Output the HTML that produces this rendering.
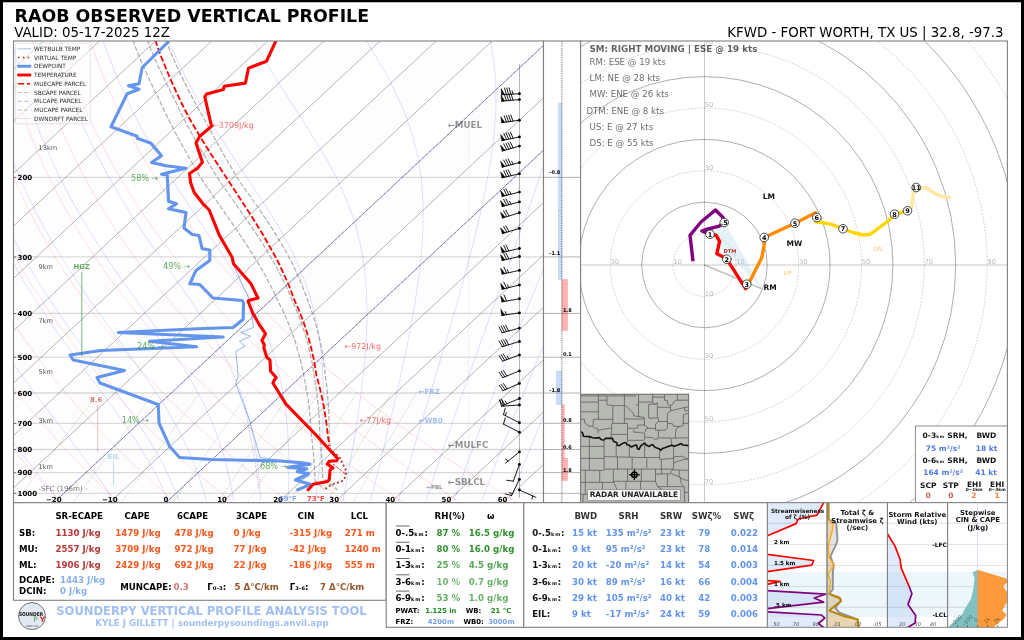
<!DOCTYPE html>
<html lang="en"><head><meta charset="utf-8"><title>SounderPy Vertical Profile</title>
<style>html,body{margin:0;padding:0;background:#fff;width:1024px;height:640px;overflow:hidden}svg{display:block}text{white-space:pre}</style></head>
<body>
<svg width="1024" height="640" viewBox="0 0 1024 640" font-family="'DejaVu Sans','Liberation Sans',sans-serif">
<defs><clipPath id="cs"><rect x="13.5" y="41.0" width="530.0" height="461.7"/></clipPath><clipPath id="ch"><rect x="580.6" y="41.0" width="426.79999999999995" height="461.7"/></clipPath><clipPath id="cm"><rect x="580.4" y="394.2" width="108.30000000000007" height="108.19999999999999"/></clipPath><clipPath id="ct0"><rect x="580" y="394" width="56" height="38"/></clipPath><clipPath id="ct1"><rect x="636" y="394" width="56" height="38"/></clipPath><clipPath id="ct2"><rect x="580" y="432" width="56" height="36"/></clipPath><clipPath id="ct3"><rect x="636" y="432" width="56" height="36"/></clipPath><clipPath id="ct4"><rect x="580" y="468" width="56" height="38"/></clipPath><clipPath id="ct5"><rect x="636" y="468" width="56" height="38"/></clipPath><clipPath id="cp0"><rect x="767.4" y="502.7" width="59.60000000000002" height="124.59999999999997"/></clipPath><clipPath id="cp1"><rect x="827.0" y="502.7" width="60.39999999999998" height="124.59999999999997"/></clipPath><clipPath id="cp2"><rect x="887.4" y="502.7" width="60.200000000000045" height="124.59999999999997"/></clipPath><clipPath id="cp3"><rect x="947.6" y="502.7" width="59.799999999999955" height="124.59999999999997"/></clipPath></defs>
<rect x="0.00" y="0.00" width="1024.00" height="640.00" fill="#fff" stroke="none" stroke-width="1"/>
<path d="M0 0H1024V640H0Z M3 2.2H1021V637H3Z" fill="#000" fill-rule="evenodd"/>
<text x="14.60" y="22.00" font-size="17.4" font-weight="bold" fill="#000">RAOB OBSERVED VERTICAL PROFILE</text>
<text x="14.20" y="37.00" font-size="13.35" fill="#000">VALID: 05-17-2025 12Z</text>
<text x="1003.50" y="37.00" font-size="13.35" fill="#000" text-anchor="end">KFWD - FORT WORTH, TX US | 32.8, -97.3</text>
<g clip-path="url(#cs)">
<path d="M-400.5 507.7 L104.8 36.0 L160.9 36.0 L-344.4 507.7Z" stroke="none" stroke-width="1" fill="#808080" stroke-linejoin="round" stroke-linecap="butt" opacity="0.02"/>
<path d="M-288.3 507.7 L217.0 36.0 L273.1 36.0 L-232.2 507.7Z" stroke="none" stroke-width="1" fill="#808080" stroke-linejoin="round" stroke-linecap="butt" opacity="0.02"/>
<path d="M-176.1 507.7 L329.2 36.0 L385.3 36.0 L-120.0 507.7Z" stroke="none" stroke-width="1" fill="#808080" stroke-linejoin="round" stroke-linecap="butt" opacity="0.02"/>
<path d="M-63.9 507.7 L441.4 36.0 L497.5 36.0 L-7.8 507.7Z" stroke="none" stroke-width="1" fill="#808080" stroke-linejoin="round" stroke-linecap="butt" opacity="0.02"/>
<path d="M48.3 507.7 L553.6 36.0 L609.7 36.0 L104.4 507.7Z" stroke="none" stroke-width="1" fill="#808080" stroke-linejoin="round" stroke-linecap="butt" opacity="0.02"/>
<path d="M160.5 507.7 L665.8 36.0 L721.9 36.0 L216.6 507.7Z" stroke="none" stroke-width="1" fill="#808080" stroke-linejoin="round" stroke-linecap="butt" opacity="0.02"/>
<path d="M272.7 507.7 L778.0 36.0 L834.1 36.0 L328.8 507.7Z" stroke="none" stroke-width="1" fill="#808080" stroke-linejoin="round" stroke-linecap="butt" opacity="0.02"/>
<path d="M384.9 507.7 L890.2 36.0 L946.3 36.0 L441.0 507.7Z" stroke="none" stroke-width="1" fill="#808080" stroke-linejoin="round" stroke-linecap="butt" opacity="0.02"/>
<line x1="13.50" y1="177.30" x2="543.50" y2="177.30" stroke="#000" stroke-width="1.3" opacity="0.14"/>
<line x1="13.50" y1="256.92" x2="543.50" y2="256.92" stroke="#000" stroke-width="1.3" opacity="0.14"/>
<line x1="13.50" y1="313.40" x2="543.50" y2="313.40" stroke="#000" stroke-width="1.3" opacity="0.14"/>
<line x1="13.50" y1="357.22" x2="543.50" y2="357.22" stroke="#000" stroke-width="1.3" opacity="0.14"/>
<line x1="13.50" y1="393.02" x2="543.50" y2="393.02" stroke="#000" stroke-width="1.3" opacity="0.14"/>
<line x1="13.50" y1="423.29" x2="543.50" y2="423.29" stroke="#000" stroke-width="1.3" opacity="0.14"/>
<line x1="13.50" y1="449.50" x2="543.50" y2="449.50" stroke="#000" stroke-width="1.3" opacity="0.14"/>
<line x1="13.50" y1="472.63" x2="543.50" y2="472.63" stroke="#000" stroke-width="1.3" opacity="0.14"/>
<line x1="13.50" y1="493.32" x2="543.50" y2="493.32" stroke="#000" stroke-width="1.3" opacity="0.14"/>
<line x1="-956.10" y1="502.70" x2="-461.56" y2="41.00" stroke="#000" stroke-width="0.68" opacity="0.42"/>
<line x1="-900.00" y1="502.70" x2="-405.46" y2="41.00" stroke="#000" stroke-width="0.68" opacity="0.42"/>
<line x1="-843.90" y1="502.70" x2="-349.36" y2="41.00" stroke="#000" stroke-width="0.68" opacity="0.42"/>
<line x1="-787.80" y1="502.70" x2="-293.26" y2="41.00" stroke="#000" stroke-width="0.68" opacity="0.42"/>
<line x1="-731.70" y1="502.70" x2="-237.16" y2="41.00" stroke="#000" stroke-width="0.68" opacity="0.42"/>
<line x1="-675.60" y1="502.70" x2="-181.06" y2="41.00" stroke="#000" stroke-width="0.68" opacity="0.42"/>
<line x1="-619.50" y1="502.70" x2="-124.96" y2="41.00" stroke="#000" stroke-width="0.68" opacity="0.42"/>
<line x1="-563.40" y1="502.70" x2="-68.86" y2="41.00" stroke="#000" stroke-width="0.68" opacity="0.42"/>
<line x1="-507.30" y1="502.70" x2="-12.76" y2="41.00" stroke="#000" stroke-width="0.68" opacity="0.42"/>
<line x1="-451.20" y1="502.70" x2="43.34" y2="41.00" stroke="#000" stroke-width="0.68" opacity="0.42"/>
<line x1="-395.10" y1="502.70" x2="99.44" y2="41.00" stroke="#000" stroke-width="0.68" opacity="0.42"/>
<line x1="-339.00" y1="502.70" x2="155.54" y2="41.00" stroke="#000" stroke-width="0.68" opacity="0.42"/>
<line x1="-282.90" y1="502.70" x2="211.64" y2="41.00" stroke="#000" stroke-width="0.68" opacity="0.42"/>
<line x1="-226.80" y1="502.70" x2="267.74" y2="41.00" stroke="#000" stroke-width="0.68" opacity="0.42"/>
<line x1="-170.70" y1="502.70" x2="323.84" y2="41.00" stroke="#000" stroke-width="0.68" opacity="0.42"/>
<line x1="-114.60" y1="502.70" x2="379.94" y2="41.00" stroke="#000" stroke-width="0.68" opacity="0.42"/>
<line x1="-58.50" y1="502.70" x2="436.04" y2="41.00" stroke="#000" stroke-width="0.68" opacity="0.42"/>
<line x1="-2.40" y1="502.70" x2="492.14" y2="41.00" stroke="#000" stroke-width="0.68" opacity="0.42"/>
<line x1="53.70" y1="502.70" x2="548.24" y2="41.00" stroke="#000" stroke-width="0.68" opacity="0.42"/>
<line x1="109.80" y1="502.70" x2="604.34" y2="41.00" stroke="#000" stroke-width="0.68" opacity="0.42"/>
<line x1="165.90" y1="502.70" x2="660.44" y2="41.00" stroke="#000" stroke-width="0.68" opacity="0.42"/>
<line x1="222.00" y1="502.70" x2="716.54" y2="41.00" stroke="#000" stroke-width="0.68" opacity="0.42"/>
<line x1="278.10" y1="502.70" x2="772.64" y2="41.00" stroke="#000" stroke-width="0.68" opacity="0.42"/>
<line x1="334.20" y1="502.70" x2="828.74" y2="41.00" stroke="#000" stroke-width="0.68" opacity="0.42"/>
<line x1="390.30" y1="502.70" x2="884.84" y2="41.00" stroke="#000" stroke-width="0.68" opacity="0.42"/>
<line x1="446.40" y1="502.70" x2="940.94" y2="41.00" stroke="#000" stroke-width="0.68" opacity="0.42"/>
<line x1="502.50" y1="502.70" x2="997.04" y2="41.00" stroke="#000" stroke-width="0.68" opacity="0.42"/>
<line x1="558.60" y1="502.70" x2="1053.14" y2="41.00" stroke="#000" stroke-width="0.68" opacity="0.42"/>
<path d="M-142.2 41.0 L-142.2 48.7 L-142.1 56.4 L-142.0 64.1 L-141.7 71.8 L-141.3 79.5 L-140.9 87.2 L-140.4 94.9 L-139.7 102.6 L-139.0 110.3 L-138.1 118.0 L-137.2 125.6 L-136.1 133.3 L-135.0 141.0 L-133.7 148.7 L-132.3 156.4 L-130.9 164.1 L-129.3 171.8 L-127.6 179.5 L-125.8 187.2 L-123.8 194.9 L-121.8 202.6 L-119.6 210.3 L-117.4 218.0 L-115.0 225.7 L-112.5 233.4 L-109.9 241.1 L-107.1 248.8 L-104.2 256.5 L-101.2 264.2 L-98.1 271.9 L-94.8 279.5 L-91.5 287.2 L-87.9 294.9 L-84.3 302.6 L-80.5 310.3 L-76.6 318.0 L-72.5 325.7 L-68.4 333.4 L-64.0 341.1 L-59.5 348.8 L-54.9 356.5 L-50.2 364.2 L-45.3 371.9 L-40.2 379.6 L-35.0 387.3 L-29.6 395.0 L-24.1 402.7 L-18.5 410.4 L-12.6 418.1 L-6.7 425.8 L-0.5 433.4 L5.8 441.1 L12.3 448.8 L18.9 456.5 L25.7 464.2 L32.7 471.9 L39.8 479.6 L47.1 487.3 L54.6 495.0 L62.3 502.7" stroke="#ff4040" stroke-width="0.5" fill="none" stroke-linejoin="round" stroke-linecap="butt" opacity="0.32"/>
<path d="M-113.1 41.0 L-112.8 48.7 L-112.4 56.4 L-111.9 64.1 L-111.3 71.8 L-110.6 79.5 L-109.8 87.2 L-108.9 94.9 L-107.9 102.6 L-106.8 110.3 L-105.6 118.0 L-104.3 125.6 L-102.9 133.3 L-101.4 141.0 L-99.7 148.7 L-98.0 156.4 L-96.1 164.1 L-94.1 171.8 L-92.0 179.5 L-89.8 187.2 L-87.5 194.9 L-85.0 202.6 L-82.5 210.3 L-79.8 218.0 L-77.0 225.7 L-74.0 233.4 L-71.0 241.1 L-67.8 248.8 L-64.5 256.5 L-61.0 264.2 L-57.4 271.9 L-53.7 279.5 L-49.9 287.2 L-45.9 294.9 L-41.8 302.6 L-37.5 310.3 L-33.1 318.0 L-28.6 325.7 L-23.9 333.4 L-19.1 341.1 L-14.1 348.8 L-8.9 356.5 L-3.7 364.2 L1.8 371.9 L7.4 379.6 L13.1 387.3 L19.0 395.0 L25.1 402.7 L31.3 410.4 L37.7 418.1 L44.2 425.8 L50.9 433.4 L57.8 441.1 L64.8 448.8 L72.1 456.5 L79.5 464.2 L87.0 471.9 L94.8 479.6 L102.7 487.3 L110.8 495.0 L119.1 502.7" stroke="#ff4040" stroke-width="0.5" fill="none" stroke-linejoin="round" stroke-linecap="butt" opacity="0.32"/>
<path d="M-84.0 41.0 L-83.4 48.7 L-82.7 56.4 L-81.9 64.1 L-80.9 71.8 L-79.9 79.5 L-78.7 87.2 L-77.5 94.9 L-76.1 102.6 L-74.7 110.3 L-73.1 118.0 L-71.4 125.6 L-69.6 133.3 L-67.7 141.0 L-65.7 148.7 L-63.6 156.4 L-61.3 164.1 L-59.0 171.8 L-56.5 179.5 L-53.9 187.2 L-51.1 194.9 L-48.3 202.6 L-45.3 210.3 L-42.2 218.0 L-39.0 225.7 L-35.6 233.4 L-32.1 241.1 L-28.5 248.8 L-24.7 256.5 L-20.8 264.2 L-16.8 271.9 L-12.6 279.5 L-8.3 287.2 L-3.9 294.9 L0.7 302.6 L5.5 310.3 L10.4 318.0 L15.4 325.7 L20.6 333.4 L25.9 341.1 L31.4 348.8 L37.0 356.5 L42.8 364.2 L48.8 371.9 L54.9 379.6 L61.2 387.3 L67.6 395.0 L74.2 402.7 L81.0 410.4 L88.0 418.1 L95.1 425.8 L102.4 433.4 L109.8 441.1 L117.4 448.8 L125.3 456.5 L133.3 464.2 L141.4 471.9 L149.8 479.6 L158.4 487.3 L167.1 495.0 L176.0 502.7" stroke="#ff4040" stroke-width="0.5" fill="none" stroke-linejoin="round" stroke-linecap="butt" opacity="0.32"/>
<path d="M-55.0 41.0 L-54.0 48.7 L-53.0 56.4 L-51.8 64.1 L-50.5 71.8 L-49.2 79.5 L-47.7 87.2 L-46.1 94.9 L-44.4 102.6 L-42.6 110.3 L-40.6 118.0 L-38.6 125.6 L-36.4 133.3 L-34.1 141.0 L-31.7 148.7 L-29.2 156.4 L-26.6 164.1 L-23.8 171.8 L-20.9 179.5 L-17.9 187.2 L-14.8 194.9 L-11.5 202.6 L-8.1 210.3 L-4.6 218.0 L-0.9 225.7 L2.8 233.4 L6.8 241.1 L10.8 248.8 L15.0 256.5 L19.4 264.2 L23.9 271.9 L28.5 279.5 L33.3 287.2 L38.2 294.9 L43.3 302.6 L48.5 310.3 L53.8 318.0 L59.4 325.7 L65.0 333.4 L70.9 341.1 L76.9 348.8 L83.0 356.5 L89.3 364.2 L95.8 371.9 L102.5 379.6 L109.3 387.3 L116.3 395.0 L123.4 402.7 L130.7 410.4 L138.2 418.1 L145.9 425.8 L153.8 433.4 L161.8 441.1 L170.0 448.8 L178.5 456.5 L187.1 464.2 L195.8 471.9 L204.8 479.6 L214.0 487.3 L223.4 495.0 L232.9 502.7" stroke="#ff4040" stroke-width="0.5" fill="none" stroke-linejoin="round" stroke-linecap="butt" opacity="0.32"/>
<path d="M-25.9 41.0 L-24.6 48.7 L-23.3 56.4 L-21.8 64.1 L-20.1 71.8 L-18.4 79.5 L-16.6 87.2 L-14.6 94.9 L-12.6 102.6 L-10.4 110.3 L-8.1 118.0 L-5.7 125.6 L-3.2 133.3 L-0.5 141.0 L2.3 148.7 L5.2 156.4 L8.2 164.1 L11.3 171.8 L14.6 179.5 L18.0 187.2 L21.6 194.9 L25.2 202.6 L29.0 210.3 L33.0 218.0 L37.1 225.7 L41.3 233.4 L45.7 241.1 L50.2 248.8 L54.8 256.5 L59.6 264.2 L64.5 271.9 L69.6 279.5 L74.9 287.2 L80.2 294.9 L85.8 302.6 L91.5 310.3 L97.3 318.0 L103.3 325.7 L109.5 333.4 L115.9 341.1 L122.4 348.8 L129.0 356.5 L135.8 364.2 L142.9 371.9 L150.0 379.6 L157.4 387.3 L164.9 395.0 L172.6 402.7 L180.5 410.4 L188.5 418.1 L196.8 425.8 L205.2 433.4 L213.8 441.1 L222.6 448.8 L231.6 456.5 L240.8 464.2 L250.2 471.9 L259.8 479.6 L269.6 487.3 L279.6 495.0 L289.8 502.7" stroke="#ff4040" stroke-width="0.5" fill="none" stroke-linejoin="round" stroke-linecap="butt" opacity="0.32"/>
<path d="M3.1 41.0 L4.7 48.7 L6.5 56.4 L8.3 64.1 L10.2 71.8 L12.3 79.5 L14.5 87.2 L16.8 94.9 L19.2 102.6 L21.7 110.3 L24.4 118.0 L27.2 125.6 L30.1 133.3 L33.1 141.0 L36.2 148.7 L39.5 156.4 L42.9 164.1 L46.5 171.8 L50.2 179.5 L54.0 187.2 L57.9 194.9 L62.0 202.6 L66.2 210.3 L70.6 218.0 L75.1 225.7 L79.7 233.4 L84.5 241.1 L89.5 248.8 L94.6 256.5 L99.8 264.2 L105.2 271.9 L110.7 279.5 L116.4 287.2 L122.3 294.9 L128.3 302.6 L134.5 310.3 L140.8 318.0 L147.3 325.7 L154.0 333.4 L160.8 341.1 L167.8 348.8 L175.0 356.5 L182.4 364.2 L189.9 371.9 L197.6 379.6 L205.5 387.3 L213.5 395.0 L221.8 402.7 L230.2 410.4 L238.8 418.1 L247.6 425.8 L256.7 433.4 L265.9 441.1 L275.2 448.8 L284.8 456.5 L294.6 464.2 L304.6 471.9 L314.8 479.6 L325.2 487.3 L335.9 495.0 L346.7 502.7" stroke="#ff4040" stroke-width="0.5" fill="none" stroke-linejoin="round" stroke-linecap="butt" opacity="0.32"/>
<path d="M32.2 41.0 L34.1 48.7 L36.2 56.4 L38.3 64.1 L40.6 71.8 L43.0 79.5 L45.6 87.2 L48.2 94.9 L51.0 102.6 L53.9 110.3 L56.9 118.0 L60.0 125.6 L63.3 133.3 L66.7 141.0 L70.2 148.7 L73.9 156.4 L77.7 164.1 L81.6 171.8 L85.7 179.5 L89.9 187.2 L94.3 194.9 L98.8 202.6 L103.4 210.3 L108.2 218.0 L113.1 225.7 L118.2 233.4 L123.4 241.1 L128.8 248.8 L134.3 256.5 L140.0 264.2 L145.8 271.9 L151.8 279.5 L158.0 287.2 L164.3 294.9 L170.8 302.6 L177.5 310.3 L184.3 318.0 L191.3 325.7 L198.5 333.4 L205.8 341.1 L213.3 348.8 L221.0 356.5 L228.9 364.2 L236.9 371.9 L245.1 379.6 L253.6 387.3 L262.2 395.0 L271.0 402.7 L280.0 410.4 L289.1 418.1 L298.5 425.8 L308.1 433.4 L317.9 441.1 L327.8 448.8 L338.0 456.5 L348.4 464.2 L359.0 471.9 L369.8 479.6 L380.9 487.3 L392.1 495.0 L403.6 502.7" stroke="#ff4040" stroke-width="0.5" fill="none" stroke-linejoin="round" stroke-linecap="butt" opacity="0.32"/>
<path d="M61.2 41.0 L63.5 48.7 L65.9 56.4 L68.4 64.1 L71.0 71.8 L73.8 79.5 L76.6 87.2 L79.6 94.9 L82.8 102.6 L86.0 110.3 L89.4 118.0 L92.9 125.6 L96.5 133.3 L100.3 141.0 L104.2 148.7 L108.3 156.4 L112.5 164.1 L116.8 171.8 L121.2 179.5 L125.9 187.2 L130.6 194.9 L135.5 202.6 L140.6 210.3 L145.8 218.0 L151.1 225.7 L156.6 233.4 L162.3 241.1 L168.1 248.8 L174.1 256.5 L180.2 264.2 L186.5 271.9 L193.0 279.5 L199.6 287.2 L206.4 294.9 L213.3 302.6 L220.5 310.3 L227.8 318.0 L235.3 325.7 L242.9 333.4 L250.8 341.1 L258.8 348.8 L267.0 356.5 L275.4 364.2 L283.9 371.9 L292.7 379.6 L301.7 387.3 L310.8 395.0 L320.1 402.7 L329.7 410.4 L339.4 418.1 L349.4 425.8 L359.5 433.4 L369.9 441.1 L380.4 448.8 L391.2 456.5 L402.2 464.2 L413.4 471.9 L424.8 479.6 L436.5 487.3 L448.4 495.0 L460.5 502.7" stroke="#ff4040" stroke-width="0.5" fill="none" stroke-linejoin="round" stroke-linecap="butt" opacity="0.32"/>
<path d="M90.3 41.0 L92.9 48.7 L95.6 56.4 L98.4 64.1 L101.4 71.8 L104.5 79.5 L107.7 87.2 L111.1 94.9 L114.5 102.6 L118.1 110.3 L121.9 118.0 L125.8 125.6 L129.8 133.3 L133.9 141.0 L138.2 148.7 L142.6 156.4 L147.2 164.1 L151.9 171.8 L156.8 179.5 L161.8 187.2 L167.0 194.9 L172.3 202.6 L177.7 210.3 L183.4 218.0 L189.1 225.7 L195.1 233.4 L201.2 241.1 L207.4 248.8 L213.8 256.5 L220.4 264.2 L227.2 271.9 L234.1 279.5 L241.2 287.2 L248.4 294.9 L255.9 302.6 L263.5 310.3 L271.3 318.0 L279.2 325.7 L287.4 333.4 L295.7 341.1 L304.2 348.8 L313.0 356.5 L321.9 364.2 L331.0 371.9 L340.3 379.6 L349.7 387.3 L359.4 395.0 L369.3 402.7 L379.4 410.4 L389.7 418.1 L400.2 425.8 L411.0 433.4 L421.9 441.1 L433.0 448.8 L444.4 456.5 L456.0 464.2 L467.8 471.9 L479.9 479.6 L492.1 487.3 L504.6 495.0 L517.4 502.7" stroke="#ff4040" stroke-width="0.5" fill="none" stroke-linejoin="round" stroke-linecap="butt" opacity="0.32"/>
<path d="M-137.3 41.0 L-136.4 76.8 L-134.0 107.1 L-130.6 133.3 L-126.6 156.4 L-122.2 177.1 L-117.6 195.8 L-112.7 212.9 L-107.7 228.6 L-102.6 243.2 L-97.5 256.7 L-92.4 269.4 L-87.3 281.3 L-82.1 292.5 L-77.0 303.1 L-71.9 313.2 L-66.9 322.8 L-61.9 331.9 L-56.9 340.6 L-52.0 349.0 L-47.1 357.0 L-42.3 364.7 L-37.5 372.1 L-32.8 379.3 L-28.2 386.2 L-23.6 392.8 L-19.1 399.3 L-14.6 405.5 L-10.2 411.5 L-5.9 417.4 L-1.7 423.1 L2.5 428.6 L6.6 434.0 L10.6 439.2 L14.6 444.3 L18.5 449.3 L22.3 454.2 L26.0 458.9 L29.6 463.5 L33.2 468.0 L36.6 472.4 L40.0 476.7 L43.3 481.0 L46.6 485.1 L49.7 489.2 L52.7 493.1 L55.7 497.0 L58.6 500.8" stroke="#4040ff" stroke-width="0.5" fill="none" stroke-linejoin="round" stroke-linecap="butt" opacity="0.34"/>
<path d="M-101.7 41.0 L-98.9 76.8 L-94.8 107.1 L-89.9 133.3 L-84.5 156.4 L-78.8 177.1 L-73.0 195.8 L-67.0 212.9 L-60.9 228.6 L-54.9 243.2 L-48.8 256.7 L-42.8 269.4 L-36.8 281.3 L-30.8 292.5 L-24.9 303.1 L-19.1 313.2 L-13.3 322.8 L-7.7 331.9 L-2.1 340.6 L3.5 349.0 L8.9 357.0 L14.2 364.7 L19.5 372.1 L24.6 379.3 L29.7 386.2 L34.6 392.8 L39.5 399.3 L44.2 405.5 L48.8 411.5 L53.3 417.4 L57.7 423.1 L61.9 428.6 L66.1 434.0 L70.1 439.2 L74.0 444.3 L77.7 449.3 L81.4 454.2 L84.9 458.9 L88.3 463.5 L91.6 468.0 L94.7 472.4 L97.8 476.7 L100.7 481.0 L103.5 485.1 L106.2 489.2 L108.8 493.1 L111.3 497.0 L113.7 500.8" stroke="#4040ff" stroke-width="0.5" fill="none" stroke-linejoin="round" stroke-linecap="butt" opacity="0.34"/>
<path d="M-58.9 41.0 L-53.7 76.8 L-47.6 107.1 L-40.9 133.3 L-33.8 156.4 L-26.6 177.1 L-19.3 195.8 L-11.9 212.9 L-4.6 228.6 L2.6 243.2 L9.8 256.7 L16.9 269.4 L23.9 281.3 L30.8 292.5 L37.5 303.1 L44.2 313.2 L50.7 322.8 L57.0 331.9 L63.3 340.6 L69.3 349.0 L75.2 357.0 L80.9 364.7 L86.4 372.1 L91.8 379.3 L97.0 386.2 L101.9 392.8 L106.7 399.3 L111.3 405.5 L115.7 411.5 L119.9 417.4 L123.9 423.1 L127.8 428.6 L131.4 434.0 L134.9 439.2 L138.2 444.3 L141.3 449.3 L144.3 454.2 L147.1 458.9 L149.8 463.5 L152.3 468.0 L154.7 472.4 L157.0 476.7 L159.1 481.0 L161.2 485.1 L163.1 489.2 L164.9 493.1 L166.7 497.0 L168.3 500.8" stroke="#4040ff" stroke-width="0.5" fill="none" stroke-linejoin="round" stroke-linecap="butt" opacity="0.34"/>
<path d="M-48.9 41.0 L-43.3 76.8 L-36.6 107.1 L-29.5 133.3 L-22.0 156.4 L-14.5 177.1 L-6.8 195.8 L0.8 212.9 L8.4 228.6 L16.0 243.2 L23.4 256.7 L30.7 269.4 L37.9 281.3 L45.0 292.5 L52.0 303.1 L58.8 313.2 L65.4 322.8 L71.9 331.9 L78.2 340.6 L84.3 349.0 L90.2 357.0 L96.0 364.7 L101.5 372.1 L106.8 379.3 L111.9 386.2 L116.8 392.8 L121.5 399.3 L126.0 405.5 L130.2 411.5 L134.3 417.4 L138.1 423.1 L141.8 428.6 L145.2 434.0 L148.5 439.2 L151.6 444.3 L154.5 449.3 L157.3 454.2 L159.9 458.9 L162.4 463.5 L164.7 468.0 L166.9 472.4 L169.0 476.7 L170.9 481.0 L172.8 485.1 L174.5 489.2 L176.2 493.1 L177.7 497.0 L179.2 500.8" stroke="#4040ff" stroke-width="0.5" fill="none" stroke-linejoin="round" stroke-linecap="butt" opacity="0.34"/>
<path d="M-21.2 41.0 L-14.0 76.8 L-6.1 107.1 L2.2 133.3 L10.8 156.4 L19.4 177.1 L27.9 195.8 L36.4 212.9 L44.8 228.6 L53.1 243.2 L61.2 256.7 L69.2 269.4 L77.0 281.3 L84.5 292.5 L91.9 303.1 L99.1 313.2 L106.0 322.8 L112.6 331.9 L119.0 340.6 L125.2 349.0 L131.0 357.0 L136.6 364.7 L141.9 372.1 L146.9 379.3 L151.7 386.2 L156.1 392.8 L160.3 399.3 L164.3 405.5 L168.0 411.5 L171.5 417.4 L174.7 423.1 L177.7 428.6 L180.6 434.0 L183.2 439.2 L185.7 444.3 L188.0 449.3 L190.2 454.2 L192.2 458.9 L194.1 463.5 L195.8 468.0 L197.5 472.4 L199.0 476.7 L200.4 481.0 L201.8 485.1 L203.0 489.2 L204.2 493.1 L205.3 497.0 L206.3 500.8" stroke="#4040ff" stroke-width="0.5" fill="none" stroke-linejoin="round" stroke-linecap="butt" opacity="0.34"/>
<path d="M11.9 41.0 L20.8 76.8 L30.3 107.1 L40.1 133.3 L49.9 156.4 L59.6 177.1 L69.3 195.8 L78.8 212.9 L88.1 228.6 L97.2 243.2 L106.0 256.7 L114.6 269.4 L122.9 281.3 L130.8 292.5 L138.5 303.1 L145.7 313.2 L152.6 322.8 L159.1 331.9 L165.3 340.6 L171.0 349.0 L176.4 357.0 L181.4 364.7 L186.0 372.1 L190.3 379.3 L194.3 386.2 L197.9 392.8 L201.3 399.3 L204.4 405.5 L207.3 411.5 L209.9 417.4 L212.3 423.1 L214.5 428.6 L216.6 434.0 L218.5 439.2 L220.2 444.3 L221.8 449.3 L223.3 454.2 L224.6 458.9 L225.9 463.5 L227.0 468.0 L228.1 472.4 L229.1 476.7 L230.0 481.0 L230.8 485.1 L231.6 489.2 L232.3 493.1 L232.9 497.0 L233.5 500.8" stroke="#4040ff" stroke-width="0.5" fill="none" stroke-linejoin="round" stroke-linecap="butt" opacity="0.34"/>
<path d="M52.3 41.0 L63.4 76.8 L74.8 107.1 L86.3 133.3 L97.7 156.4 L108.8 177.1 L119.7 195.8 L130.3 212.9 L140.6 228.6 L150.4 243.2 L159.8 256.7 L168.8 269.4 L177.2 281.3 L185.0 292.5 L192.4 303.1 L199.1 313.2 L205.3 322.8 L211.0 331.9 L216.1 340.6 L220.8 349.0 L225.1 357.0 L228.9 364.7 L232.3 372.1 L235.4 379.3 L238.2 386.2 L240.8 392.8 L243.0 399.3 L245.0 405.5 L246.9 411.5 L248.5 417.4 L250.0 423.1 L251.3 428.6 L252.5 434.0 L253.6 439.2 L254.6 444.3 L255.4 449.3 L256.2 454.2 L256.9 458.9 L257.5 463.5 L258.1 468.0 L258.6 472.4 L259.0 476.7 L259.4 481.0 L259.7 485.1 L260.0 489.2 L260.3 493.1 L260.5 497.0 L260.7 500.8" stroke="#4040ff" stroke-width="0.5" fill="none" stroke-linejoin="round" stroke-linecap="butt" opacity="0.34"/>
<path d="M103.0 41.0 L116.8 76.8 L130.6 107.1 L144.1 133.3 L157.3 156.4 L170.1 177.1 L182.3 195.8 L193.8 212.9 L204.6 228.6 L214.6 243.2 L223.8 256.7 L232.1 269.4 L239.5 281.3 L246.1 292.5 L251.9 303.1 L257.1 313.2 L261.6 322.8 L265.5 331.9 L268.9 340.6 L271.9 349.0 L274.4 357.0 L276.7 364.7 L278.6 372.1 L280.3 379.3 L281.7 386.2 L282.9 392.8 L284.0 399.3 L284.9 405.5 L285.7 411.5 L286.4 417.4 L286.9 423.1 L287.4 428.6 L287.8 434.0 L288.1 439.2 L288.4 444.3 L288.5 449.3 L288.7 454.2 L288.8 458.9 L288.8 463.5 L288.8 468.0 L288.8 472.4 L288.8 476.7 L288.7 481.0 L288.6 485.1 L288.5 489.2 L288.4 493.1 L288.2 497.0 L288.0 500.8" stroke="#4040ff" stroke-width="0.5" fill="none" stroke-linejoin="round" stroke-linecap="butt" opacity="0.34"/>
<path d="M168.1 41.0 L185.3 76.8 L202.0 107.1 L217.9 133.3 L232.9 156.4 L246.7 177.1 L259.1 195.8 L270.1 212.9 L279.6 228.6 L287.7 243.2 L294.6 256.7 L300.2 269.4 L304.9 281.3 L308.8 292.5 L312.0 303.1 L314.6 313.2 L316.6 322.8 L318.3 331.9 L319.7 340.6 L320.7 349.0 L321.6 357.0 L322.2 364.7 L322.7 372.1 L323.0 379.3 L323.2 386.2 L323.2 392.8 L323.2 399.3 L323.2 405.5 L323.0 411.5 L322.8 417.4 L322.6 423.1 L322.3 428.6 L322.0 434.0 L321.7 439.2 L321.3 444.3 L320.9 449.3 L320.5 454.2 L320.1 458.9 L319.7 463.5 L319.2 468.0 L318.8 472.4 L318.3 476.7 L317.8 481.0 L317.4 485.1 L316.9 489.2 L316.4 493.1 L315.9 497.0 L315.5 500.8" stroke="#4040ff" stroke-width="0.5" fill="none" stroke-linejoin="round" stroke-linecap="butt" opacity="0.34"/>
<path d="M253.8 41.0 L274.9 76.8 L294.1 107.1 L310.9 133.3 L324.9 156.4 L336.2 177.1 L344.9 195.8 L351.5 212.9 L356.5 228.6 L360.1 243.2 L362.7 256.7 L364.5 269.4 L365.7 281.3 L366.5 292.5 L366.9 303.1 L367.0 313.2 L366.9 322.8 L366.6 331.9 L366.2 340.6 L365.6 349.0 L365.0 357.0 L364.3 364.7 L363.6 372.1 L362.8 379.3 L362.0 386.2 L361.2 392.8 L360.3 399.3 L359.5 405.5 L358.6 411.5 L357.7 417.4 L356.8 423.1 L356.0 428.6 L355.1 434.0 L354.2 439.2 L353.4 444.3 L352.5 449.3 L351.7 454.2 L350.8 458.9 L350.0 463.5 L349.2 468.0 L348.4 472.4 L347.6 476.7 L346.8 481.0 L346.0 485.1 L345.2 489.2 L344.5 493.1 L343.7 497.0 L343.0 500.8" stroke="#4040ff" stroke-width="0.5" fill="none" stroke-linejoin="round" stroke-linecap="butt" opacity="0.34"/>
<path d="M366.7 41.0 L387.7 76.8 L402.4 107.1 L412.0 133.3 L417.8 156.4 L421.1 177.1 L422.7 195.8 L423.2 212.9 L422.9 228.6 L422.2 243.2 L421.0 256.7 L419.7 269.4 L418.2 281.3 L416.6 292.5 L414.9 303.1 L413.2 313.2 L411.5 322.8 L409.8 331.9 L408.1 340.6 L406.4 349.0 L404.7 357.0 L403.1 364.7 L401.5 372.1 L399.9 379.3 L398.4 386.2 L396.8 392.8 L395.4 399.3 L393.9 405.5 L392.5 411.5 L391.1 417.4 L389.7 423.1 L388.4 428.6 L387.1 434.0 L385.8 439.2 L384.6 444.3 L383.4 449.3 L382.2 454.2 L381.0 458.9 L379.9 463.5 L378.8 468.0 L377.7 472.4 L376.6 476.7 L375.5 481.0 L374.5 485.1 L373.5 489.2 L372.5 493.1 L371.5 497.0 L370.6 500.8" stroke="#4040ff" stroke-width="0.5" fill="none" stroke-linejoin="round" stroke-linecap="butt" opacity="0.34"/>
<path d="M490.7 41.0 L495.7 76.8 L496.0 107.1 L494.2 133.3 L491.3 156.4 L487.8 177.1 L484.2 195.8 L480.5 212.9 L476.8 228.6 L473.3 243.2 L469.8 256.7 L466.4 269.4 L463.2 281.3 L460.1 292.5 L457.1 303.1 L454.2 313.2 L451.4 322.8 L448.7 331.9 L446.2 340.6 L443.7 349.0 L441.3 357.0 L439.0 364.7 L436.8 372.1 L434.7 379.3 L432.6 386.2 L430.6 392.8 L428.6 399.3 L426.8 405.5 L424.9 411.5 L423.2 417.4 L421.5 423.1 L419.8 428.6 L418.2 434.0 L416.6 439.2 L415.1 444.3 L413.6 449.3 L412.1 454.2 L410.7 458.9 L409.3 463.5 L408.0 468.0 L406.7 472.4 L405.4 476.7 L404.1 481.0 L402.9 485.1 L401.7 489.2 L400.6 493.1 L399.4 497.0 L398.3 500.8" stroke="#4040ff" stroke-width="0.5" fill="none" stroke-linejoin="round" stroke-linecap="butt" opacity="0.34"/>
<path d="M580.3 41.0 L571.2 76.8 L562.4 107.1 L554.2 133.3 L546.6 156.4 L539.6 177.1 L533.2 195.8 L527.2 212.9 L521.6 228.6 L516.4 243.2 L511.5 256.7 L507.0 269.4 L502.7 281.3 L498.6 292.5 L494.8 303.1 L491.2 313.2 L487.7 322.8 L484.4 331.9 L481.3 340.6 L478.3 349.0 L475.5 357.0 L472.7 364.7 L470.1 372.1 L467.5 379.3 L465.1 386.2 L462.8 392.8 L460.5 399.3 L458.3 405.5 L456.2 411.5 L454.2 417.4 L452.2 423.1 L450.3 428.6 L448.5 434.0 L446.7 439.2 L444.9 444.3 L443.2 449.3 L441.6 454.2 L440.0 458.9 L438.4 463.5 L436.9 468.0 L435.4 472.4 L434.0 476.7 L432.6 481.0 L431.2 485.1 L429.9 489.2 L428.6 493.1 L427.3 497.0 L426.1 500.8" stroke="#4040ff" stroke-width="0.5" fill="none" stroke-linejoin="round" stroke-linecap="butt" opacity="0.34"/>
<path d="M640.0 41.0 L625.0 76.8 L612.1 107.1 L601.0 133.3 L591.1 156.4 L582.2 177.1 L574.3 195.8 L567.0 212.9 L560.4 228.6 L554.3 243.2 L548.6 256.7 L543.3 269.4 L538.4 281.3 L533.8 292.5 L529.4 303.1 L525.3 313.2 L521.4 322.8 L517.7 331.9 L514.2 340.6 L510.9 349.0 L507.7 357.0 L504.7 364.7 L501.8 372.1 L499.0 379.3 L496.3 386.2 L493.7 392.8 L491.2 399.3 L488.9 405.5 L486.6 411.5 L484.3 417.4 L482.2 423.1 L480.1 428.6 L478.1 434.0 L476.2 439.2 L474.3 444.3 L472.4 449.3 L470.7 454.2 L468.9 458.9 L467.2 463.5 L465.6 468.0 L464.0 472.4 L462.5 476.7 L461.0 481.0 L459.5 485.1 L458.1 489.2 L456.7 493.1 L455.3 497.0 L454.0 500.8" stroke="#4040ff" stroke-width="0.5" fill="none" stroke-linejoin="round" stroke-linecap="butt" opacity="0.34"/>
<path d="M685.1 41.0 L667.5 76.8 L652.7 107.1 L640.1 133.3 L629.0 156.4 L619.2 177.1 L610.4 195.8 L602.4 212.9 L595.2 228.6 L588.5 243.2 L582.4 256.7 L576.7 269.4 L571.4 281.3 L566.4 292.5 L561.7 303.1 L557.3 313.2 L553.2 322.8 L549.2 331.9 L545.5 340.6 L542.0 349.0 L538.6 357.0 L535.3 364.7 L532.3 372.1 L529.3 379.3 L526.5 386.2 L523.7 392.8 L521.1 399.3 L518.6 405.5 L516.2 411.5 L513.8 417.4 L511.5 423.1 L509.4 428.6 L507.2 434.0 L505.2 439.2 L503.2 444.3 L501.3 449.3 L499.4 454.2 L497.6 458.9 L495.8 463.5 L494.1 468.0 L492.4 472.4 L490.8 476.7 L489.2 481.0 L487.7 485.1 L486.2 489.2 L484.7 493.1 L483.3 497.0 L481.9 500.8" stroke="#4040ff" stroke-width="0.5" fill="none" stroke-linejoin="round" stroke-linecap="butt" opacity="0.34"/>
<path d="M722.5 41.0 L703.6 76.8 L687.9 107.1 L674.5 133.3 L662.8 156.4 L652.4 177.1 L643.2 195.8 L634.9 212.9 L627.3 228.6 L620.3 243.2 L613.9 256.7 L608.0 269.4 L602.4 281.3 L597.2 292.5 L592.4 303.1 L587.8 313.2 L583.5 322.8 L579.4 331.9 L575.5 340.6 L571.9 349.0 L568.4 357.0 L565.0 364.7 L561.8 372.1 L558.7 379.3 L555.8 386.2 L553.0 392.8 L550.3 399.3 L547.7 405.5 L545.2 411.5 L542.7 417.4 L540.4 423.1 L538.1 428.6 L536.0 434.0 L533.8 439.2 L531.8 444.3 L529.8 449.3 L527.9 454.2 L526.0 458.9 L524.2 463.5 L522.4 468.0 L520.7 472.4 L519.0 476.7 L517.4 481.0 L515.8 485.1 L514.3 489.2 L512.8 493.1 L511.3 497.0 L509.9 500.8" stroke="#4040ff" stroke-width="0.5" fill="none" stroke-linejoin="round" stroke-linecap="butt" opacity="0.34"/>
<path d="M98.9 392.8 L92.6 400.8 L86.7 408.5 L80.9 415.9 L75.4 423.1 L70.1 430.0 L65.0 436.6 L60.0 443.1 L55.2 449.3 L50.6 455.3 L46.1 461.2 L41.7 466.9 L37.5 472.4 L33.4 477.8 L29.4 483.0 L25.5 488.1 L21.7 493.1 L18.0 498.0 L14.4 502.7" stroke="#2e8b2e" stroke-width="0.6" fill="none" stroke-linejoin="round" stroke-linecap="butt" opacity="0.45" stroke-dasharray="1 0.9"/>
<path d="M154.3 392.8 L148.3 400.8 L142.5 408.5 L137.0 415.9 L131.7 423.1 L126.6 430.0 L121.6 436.6 L116.9 443.1 L112.3 449.3 L107.8 455.3 L103.5 461.2 L99.3 466.9 L95.2 472.4 L91.3 477.8 L87.4 483.0 L83.7 488.1 L80.1 493.1 L76.5 498.0 L73.1 502.7" stroke="#2e8b2e" stroke-width="0.6" fill="none" stroke-linejoin="round" stroke-linecap="butt" opacity="0.45" stroke-dasharray="1 0.9"/>
<path d="M199.7 392.8 L193.9 400.8 L188.3 408.5 L183.0 415.9 L177.9 423.1 L172.9 430.0 L168.1 436.6 L163.5 443.1 L159.1 449.3 L154.8 455.3 L150.6 461.2 L146.6 466.9 L142.6 472.4 L138.8 477.8 L135.1 483.0 L131.5 488.1 L128.0 493.1 L124.6 498.0 L121.3 502.7" stroke="#2e8b2e" stroke-width="0.6" fill="none" stroke-linejoin="round" stroke-linecap="butt" opacity="0.45" stroke-dasharray="1 0.9"/>
<path d="M248.5 392.8 L242.9 400.8 L237.5 408.5 L232.4 415.9 L227.5 423.1 L222.7 430.0 L218.1 436.6 L213.7 443.1 L209.4 449.3 L205.3 455.3 L201.3 461.2 L197.4 466.9 L193.6 472.4 L190.0 477.8 L186.4 483.0 L183.0 488.1 L179.6 493.1 L176.3 498.0 L173.1 502.7" stroke="#2e8b2e" stroke-width="0.6" fill="none" stroke-linejoin="round" stroke-linecap="butt" opacity="0.45" stroke-dasharray="1 0.9"/>
<path d="M290.5 392.8 L285.1 400.8 L279.9 408.5 L275.0 415.9 L270.2 423.1 L265.6 430.0 L261.2 436.6 L256.9 443.1 L252.8 449.3 L248.8 455.3 L245.0 461.2 L241.2 466.9 L237.6 472.4 L234.1 477.8 L230.7 483.0 L227.4 488.1 L224.1 493.1 L221.0 498.0 L217.9 502.7" stroke="#2e8b2e" stroke-width="0.6" fill="none" stroke-linejoin="round" stroke-linecap="butt" opacity="0.45" stroke-dasharray="1 0.9"/>
<path d="M318.5 392.8 L313.3 400.8 L308.2 408.5 L303.4 415.9 L298.7 423.1 L294.3 430.0 L290.0 436.6 L285.8 443.1 L281.8 449.3 L277.9 455.3 L274.2 461.2 L270.5 466.9 L267.0 472.4 L263.6 477.8 L260.3 483.0 L257.0 488.1 L253.9 493.1 L250.8 498.0 L247.8 502.7" stroke="#2e8b2e" stroke-width="0.6" fill="none" stroke-linejoin="round" stroke-linecap="butt" opacity="0.45" stroke-dasharray="1 0.9"/>
<path d="M357.0 392.8 L351.9 400.8 L347.1 408.5 L342.4 415.9 L337.9 423.1 L333.6 430.0 L329.5 436.6 L325.5 443.1 L321.6 449.3 L317.9 455.3 L314.3 461.2 L310.8 466.9 L307.4 472.4 L304.1 477.8 L300.9 483.0 L297.8 488.1 L294.8 493.1 L291.8 498.0 L289.0 502.7" stroke="#2e8b2e" stroke-width="0.6" fill="none" stroke-linejoin="round" stroke-linecap="butt" opacity="0.45" stroke-dasharray="1 0.9"/>
<path d="M391.5 392.8 L386.6 400.8 L381.9 408.5 L377.4 415.9 L373.1 423.1 L369.0 430.0 L365.0 436.6 L361.1 443.1 L357.4 449.3 L353.8 455.3 L350.3 461.2 L346.9 466.9 L343.7 472.4 L340.5 477.8 L337.4 483.0 L334.5 488.1 L331.6 493.1 L328.7 498.0 L326.0 502.7" stroke="#2e8b2e" stroke-width="0.6" fill="none" stroke-linejoin="round" stroke-linecap="butt" opacity="0.45" stroke-dasharray="1 0.9"/>
<path d="M416.7 392.8 L412.0 400.8 L407.4 408.5 L403.0 415.9 L398.8 423.1 L394.8 430.0 L390.9 436.6 L387.1 443.1 L383.5 449.3 L380.0 455.3 L376.6 461.2 L373.4 466.9 L370.2 472.4 L367.1 477.8 L364.1 483.0 L361.2 488.1 L358.4 493.1 L355.7 498.0 L353.0 502.7" stroke="#2e8b2e" stroke-width="0.6" fill="none" stroke-linejoin="round" stroke-linecap="butt" opacity="0.45" stroke-dasharray="1 0.9"/>
<line x1="165.90" y1="502.70" x2="660.44" y2="41.00" stroke="#2020d0" stroke-width="0.8" opacity="0.55" stroke-dasharray="3.4 1.4"/>
<line x1="53.70" y1="502.70" x2="548.24" y2="41.00" stroke="#2020d0" stroke-width="0.8" opacity="0.55" stroke-dasharray="3.4 1.4"/>
<path d="M133.0 40.0 L135.0 46.0 L137.3 52.0 L139.9 58.0 L142.3 64.0 L145.0 70.0 L147.8 76.0 L150.5 82.0 L153.4 88.0 L156.2 94.0 L159.3 100.0 L162.1 106.0 L164.9 112.0 L168.0 118.0 L170.9 124.0 L174.0 130.0 L177.1 136.0 L180.4 142.0 L183.6 148.0 L187.1 154.0 L190.4 160.0 L193.9 166.0 L197.4 172.0 L201.0 178.0 L204.9 184.0 L209.0 190.0 L213.1 196.0 L217.3 202.0 L221.6 208.0 L225.6 214.0 L229.9 220.0 L233.9 226.0 L238.1 232.0 L242.0 238.0 L246.0 244.0 L249.8 250.0 L253.7 256.0 L257.4 262.0 L260.9 268.0 L264.4 274.0 L267.6 280.0 L270.8 286.0 L273.7 292.0 L276.6 298.0 L279.5 304.0 L282.5 310.0 L285.3 316.0 L287.8 322.0 L290.3 328.0 L292.5 334.0 L294.6 340.0 L296.5 346.0 L298.3 352.0 L299.9 358.0 L301.3 364.0 L302.7 370.0 L303.9 376.0 L305.1 382.0 L306.2 388.0 L307.2 394.0 L308.2 400.0 L309.0 406.0 L309.6 412.0 L310.2 418.0 L310.7 424.0 L311.1 430.0 L311.4 436.0 L312.2 442.0 L312.8 448.0 L313.5 454.0 L313.9 460.0 L314.4 466.0 L314.7 472.0 L315.0 478.0 L315.1 481.0 L324.3 489.7" stroke="#808080" stroke-width="1.25" fill="none" stroke-linejoin="round" stroke-linecap="butt" opacity="0.62" stroke-dasharray="4.8 1.9"/>
<path d="M147.4 40.0 L149.5 46.0 L151.9 52.0 L154.6 58.0 L157.2 64.0 L160.0 70.0 L162.9 76.0 L165.7 82.0 L168.7 88.0 L171.7 94.0 L174.9 100.0 L177.7 106.0 L180.6 112.0 L183.6 118.0 L186.6 124.0 L189.9 130.0 L193.2 136.0 L196.6 142.0 L199.8 148.0 L203.3 154.0 L206.9 160.0 L210.3 166.0 L214.0 172.0 L217.7 178.0 L221.7 184.0 L225.9 190.0 L230.1 196.0 L234.3 202.0 L238.5 208.0 L242.7 214.0 L246.8 220.0 L250.9 226.0 L255.1 232.0 L259.0 238.0 L262.8 244.0 L266.5 250.0 L270.1 256.0 L273.6 262.0 L276.9 268.0 L280.0 274.0 L283.0 280.0 L285.9 286.0 L288.7 292.0 L291.2 298.0 L293.8 304.0 L296.4 310.0 L298.8 316.0 L301.1 322.0 L303.1 328.0 L305.0 334.0 L306.8 340.0 L308.3 346.0 L309.8 352.0 L311.1 358.0 L312.3 364.0 L313.3 370.0 L314.2 376.0 L315.2 382.0 L316.1 388.0 L316.9 394.0 L317.6 400.0 L318.2 406.0 L318.7 412.0 L319.1 418.0 L319.4 424.0 L319.7 430.0 L319.8 436.0 L320.4 442.0 L321.0 448.0 L321.5 454.0 L321.8 460.0 L322.1 466.0 L322.4 472.0 L322.6 477.5 L337.6 490.0" stroke="#808080" stroke-width="1.25" fill="none" stroke-linejoin="round" stroke-linecap="butt" opacity="0.62" stroke-dasharray="4.8 1.9"/>
<path d="M165.9 40.0 L168.0 46.0 L170.5 52.0 L173.2 58.0 L175.8 64.0 L178.6 70.0 L181.5 76.0 L184.4 82.0 L187.3 88.0 L190.4 94.0 L193.6 100.0 L196.9 106.0 L200.2 112.0 L203.6 118.0 L206.9 124.0 L210.1 130.0 L213.4 136.0 L216.7 142.0 L220.0 148.0 L223.4 154.0 L226.9 160.0 L230.4 166.0 L233.9 172.0 L237.4 178.0 L241.4 184.0 L245.6 190.0 L250.0 196.0 L254.1 202.0 L258.4 208.0 L262.4 214.0 L266.5 220.0 L270.5 226.0 L274.3 232.0 L277.9 238.0 L281.6 244.0 L285.0 250.0 L288.3 256.0 L291.5 262.0 L294.5 268.0 L297.2 274.0 L299.9 280.0 L302.3 286.0 L304.7 292.0 L306.9 298.0 L309.1 304.0 L311.3 310.0 L313.3 316.0 L315.2 322.0 L316.8 328.0 L318.4 334.0 L319.8 340.0 L321.1 346.0 L322.2 352.0 L323.2 358.0 L324.0 364.0 L324.8 370.0 L325.4 376.0 L326.2 382.0 L326.9 388.0 L327.5 394.0 L328.0 400.0 L328.4 406.0 L328.7 412.0 L328.9 418.0 L329.1 424.0 L329.2 430.0 L329.2 436.0 L329.8 442.0 L330.4 448.0 L330.4 452.0" stroke="#808080" stroke-width="1.25" fill="none" stroke-linejoin="round" stroke-linecap="butt" opacity="0.62" stroke-dasharray="4.8 1.9"/>
<path d="M333.0 464.0 L346.0 474.4" stroke="#ff0000" stroke-width="0.8" fill="none" stroke-linejoin="round" stroke-linecap="butt" stroke-dasharray="3 1.2"/>
<path d="M244.5 405.0 L254.5 457.5 L259.0 490.0" stroke="#800080" stroke-width="0.6" fill="none" stroke-linejoin="round" stroke-linecap="butt" opacity="0.7" stroke-dasharray="0.6 1"/>
<path d="M231.0 260.0 L248.5 297.5 L252.2 317.5 L253.5 327.5 L253.2 327.5 L240.8 332.5 L250.8 336.2 L239.5 341.2 L245.0 346.2 L235.8 351.2 L238.2 376.2 L235.8 383.8 L249.5 420.0 L260.0 457.5 L287.0 461.2 L306.0 463.5 L290.0 467.0 L308.0 468.5 L300.0 472.0 L309.0 476.0 L298.0 481.0 L311.0 484.0 L299.0 490.0" stroke="#6495ed" stroke-width="0.9" fill="none" stroke-linejoin="round" stroke-linecap="butt" opacity="0.75"/>
<path d="M330.1 449.1 L337.6 455.7 L341.4 459.4 L341.8 463.2 L344.2 466.5 L346.1 470.7 L346.1 474.9 L344.2 479.3 L340.9 481.9 L336.7 482.9 L332.0 484.3 L328.2 486.6 L324.5 489.9" stroke="#a52a2a" stroke-width="2.3" fill="none" stroke-linejoin="round" stroke-linecap="round" opacity="0.85" stroke-dasharray="0.01 4.4"/>
<path d="M155.4 40.0 L157.2 46.0 L159.4 52.0 L161.7 58.0 L164.2 64.0 L166.6 70.0 L169.1 76.0 L171.7 82.0 L174.5 88.0 L177.2 94.0 L180.0 100.0 L183.0 106.0 L186.1 112.0 L189.2 118.0 L192.6 124.0 L196.2 130.0 L199.7 136.0 L203.4 142.0 L207.2 148.0 L210.9 154.0 L214.8 160.0 L218.8 166.0 L222.6 172.0 L226.6 178.0 L230.6 184.0 L234.5 190.0 L238.4 196.0 L242.3 202.0 L246.1 208.0 L250.1 214.0 L253.9 220.0 L257.6 226.0 L261.3 232.0 L264.9 238.0 L268.3 244.0 L271.6 250.0 L275.0 256.0 L278.1 262.0 L281.0 268.0 L283.8 274.0 L286.5 280.0 L289.1 286.0 L291.4 292.0 L293.6 298.0 L296.2 304.0 L298.9 310.0 L301.2 316.0 L303.5 322.0 L305.5 328.0 L307.4 334.0 L309.1 340.0 L310.7 346.0 L312.1 352.0 L313.5 358.0 L314.6 364.0 L315.6 370.0 L316.5 376.0 L318.2 382.0 L319.8 388.0 L321.2 394.0 L322.6 400.0 L323.7 406.0 L324.7 412.0 L325.7 418.0 L326.5 424.0 L327.2 430.0 L327.8 436.0 L328.9 442.0 L329.0 446.0" stroke="#ff0000" stroke-width="1.8" fill="none" stroke-linejoin="round" stroke-linecap="butt" stroke-dasharray="6 2.4"/>
<path d="M169.0 41.2 L142.2 67.5 L139.0 83.8 L128.5 85.8 L139.0 89.2 L127.2 93.8 L111.0 126.8 L137.2 136.2 L137.2 138.2 L151.0 143.2 L161.5 155.8 L151.5 162.5 L166.0 165.8 L186.0 168.2 L161.5 174.2 L167.2 175.0 L168.5 200.0 L168.5 201.2 L176.5 203.8 L168.5 208.8 L186.0 212.5 L184.0 228.0 L192.2 234.5 L199.0 235.5 L202.2 248.8 L209.8 250.0 L209.8 260.5 L196.0 270.5 L189.8 283.8 L199.8 284.5 L213.0 298.0 L242.2 300.5 L243.5 302.5 L243.2 319.2 L233.2 327.5 L197.0 328.8 L118.2 332.5 L223.2 337.0 L149.5 341.2 L196.5 346.8 L100.8 350.5 L70.0 355.0 L73.2 360.0 L124.5 370.5 L97.0 377.5 L100.0 383.0 L158.2 404.5 L159.0 423.0 L169.5 446.2 L179.5 457.5 L212.0 459.5 L280.2 461.0 L300.1 462.6 L310.0 464.1 L288.0 467.4 L306.7 468.8 L297.3 471.6 L308.6 473.5 L295.4 480.0 L310.4 484.3 L296.4 490.4" stroke="#6495ed" stroke-width="3.1" fill="none" stroke-linejoin="round" stroke-linecap="butt"/>
<path d="M276.0 40.6 L266.6 61.2 L248.5 68.1 L245.4 83.1 L224.1 86.2 L223.5 89.4 L206.6 94.0 L204.8 96.9 L211.5 126.2 L199.8 136.2 L196.0 143.0 L202.4 162.2 L197.2 168.5 L189.5 173.5 L190.6 182.5 L194.2 192.5 L203.0 203.8 L209.2 210.0 L216.8 228.8 L219.2 235.0 L232.2 257.5 L233.5 263.8 L251.0 283.8 L258.0 298.0 L248.5 300.5 L248.1 301.2 L252.5 312.5 L258.8 323.8 L265.6 333.8 L261.9 340.6 L264.4 345.0 L263.8 347.5 L266.9 357.5 L270.0 360.0 L270.6 371.2 L276.2 377.5 L274.4 380.0 L272.9 383.0 L286.0 404.1 L316.5 435.5 L337.6 458.5 L336.7 460.8 L329.2 461.3 L327.3 464.1 L332.9 467.9 L330.1 469.8 L329.2 480.0 L327.3 481.5 L313.2 484.3 L307.2 490.8" stroke="#ff0000" stroke-width="3.1" fill="none" stroke-linejoin="round" stroke-linecap="butt"/>
<line x1="13.50" y1="177.40" x2="15.70" y2="177.40" stroke="#000" stroke-width="0.6"/>
<text x="17.60" y="180.00" font-size="7.0" font-weight="bold" fill="#000">200</text>
<line x1="13.50" y1="257.02" x2="15.70" y2="257.02" stroke="#000" stroke-width="0.6"/>
<text x="17.60" y="259.62" font-size="7.0" font-weight="bold" fill="#000">300</text>
<line x1="13.50" y1="313.50" x2="15.70" y2="313.50" stroke="#000" stroke-width="0.6"/>
<text x="17.60" y="316.10" font-size="7.0" font-weight="bold" fill="#000">400</text>
<line x1="13.50" y1="357.32" x2="15.70" y2="357.32" stroke="#000" stroke-width="0.6"/>
<text x="17.60" y="359.92" font-size="7.0" font-weight="bold" fill="#000">500</text>
<line x1="13.50" y1="393.12" x2="15.70" y2="393.12" stroke="#000" stroke-width="0.6"/>
<text x="17.60" y="395.72" font-size="7.0" font-weight="bold" fill="#000">600</text>
<line x1="13.50" y1="423.39" x2="15.70" y2="423.39" stroke="#000" stroke-width="0.6"/>
<text x="17.60" y="425.99" font-size="7.0" font-weight="bold" fill="#000">700</text>
<line x1="13.50" y1="449.60" x2="15.70" y2="449.60" stroke="#000" stroke-width="0.6"/>
<text x="17.60" y="452.20" font-size="7.0" font-weight="bold" fill="#000">800</text>
<line x1="13.50" y1="472.73" x2="15.70" y2="472.73" stroke="#000" stroke-width="0.6"/>
<text x="17.60" y="475.33" font-size="7.0" font-weight="bold" fill="#000">900</text>
<line x1="13.50" y1="493.42" x2="15.70" y2="493.42" stroke="#000" stroke-width="0.6"/>
<text x="17.60" y="496.02" font-size="7.0" font-weight="bold" fill="#000">1000</text>
<text x="53.70" y="501.90" font-size="7.0" font-weight="bold" fill="#000" text-anchor="middle">−20</text>
<text x="109.80" y="501.90" font-size="7.0" font-weight="bold" fill="#000" text-anchor="middle">−10</text>
<text x="165.90" y="501.90" font-size="7.0" font-weight="bold" fill="#000" text-anchor="middle">0</text>
<text x="222.00" y="501.90" font-size="7.0" font-weight="bold" fill="#000" text-anchor="middle">10</text>
<text x="278.10" y="501.90" font-size="7.0" font-weight="bold" fill="#000" text-anchor="middle">20</text>
<text x="334.20" y="501.90" font-size="7.0" font-weight="bold" fill="#000" text-anchor="middle">30</text>
<text x="390.30" y="501.90" font-size="7.0" font-weight="bold" fill="#000" text-anchor="middle">40</text>
<text x="446.40" y="501.90" font-size="7.0" font-weight="bold" fill="#000" text-anchor="middle">50</text>
<text x="502.50" y="501.90" font-size="7.0" font-weight="bold" fill="#000" text-anchor="middle">60</text>
<text x="38.60" y="149.60" font-size="6.55" fill="#000" opacity="0.7">13km</text>
<text x="38.60" y="268.75" font-size="6.55" fill="#000" opacity="0.7">9km</text>
<text x="38.60" y="323.30" font-size="6.55" fill="#000" opacity="0.7">7km</text>
<text x="38.60" y="374.00" font-size="6.55" fill="#000" opacity="0.7">5km</text>
<text x="38.60" y="423.00" font-size="6.55" fill="#000" opacity="0.7">3km</text>
<text x="38.60" y="468.90" font-size="6.55" fill="#000" opacity="0.7">1km</text>
<text x="38.40" y="490.60" font-size="7.1" fill="#000" opacity="0.55">-SFC (196m) -</text>
<text x="73.40" y="268.75" font-size="6.9" font-weight="bold" fill="#228b22" opacity="0.7">HGZ</text>
<line x1="81.80" y1="272.00" x2="81.80" y2="356.50" stroke="#228b22" stroke-width="1.0" opacity="0.6"/>
<text x="90.00" y="401.80" font-size="6.9" font-weight="bold" fill="#b22222" opacity="0.6">8.6</text>
<line x1="97.70" y1="405.00" x2="97.70" y2="452.00" stroke="#b22222" stroke-width="0.9" opacity="0.6" stroke-dasharray="0.5 0.5"/>
<text x="107.80" y="459.30" font-size="6.9" font-weight="bold" fill="#add8e6" opacity="0.9">EIL</text>
<line x1="113.60" y1="462.00" x2="113.60" y2="485.00" stroke="#add8e6" stroke-width="1.0" opacity="0.9"/>
<line x1="468.70" y1="130.00" x2="468.70" y2="491.00" stroke="#000" stroke-width="0.6" opacity="0.25" stroke-dasharray="0.6 1.2"/>
<text x="131.00" y="180.60" font-size="8.1" fill="#228b22" opacity="0.7">58% →</text>
<text x="163.00" y="268.80" font-size="8.1" fill="#228b22" opacity="0.7">49% →</text>
<text x="137.00" y="348.70" font-size="8.1" fill="#228b22" opacity="0.7">24% →</text>
<text x="121.80" y="422.70" font-size="8.1" fill="#228b22" opacity="0.7">14% →</text>
<text x="260.00" y="468.80" font-size="8.1" fill="#228b22" opacity="0.7">68% →</text>
<text x="212.20" y="128.00" font-size="7.95" fill="#ff0000" opacity="0.6">←3709J/kg</text>
<text x="344.50" y="349.20" font-size="7.95" fill="#ff0000" opacity="0.6">←972J/kg</text>
<text x="359.70" y="423.20" font-size="7.95" fill="#ff0000" opacity="0.6">←77J/kg</text>
<text x="447.50" y="127.80" font-size="8.7" font-weight="bold" fill="#000" opacity="0.42">←MUEL</text>
<text x="447.50" y="447.60" font-size="8.7" font-weight="bold" fill="#000" opacity="0.42">←MULFC</text>
<text x="447.50" y="484.60" font-size="8.7" font-weight="bold" fill="#000" opacity="0.42">←SBLCL</text>
<text x="426.50" y="489.00" font-size="5.4" font-weight="bold" fill="#000" opacity="0.42">←PBL</text>
<text x="418.50" y="394.20" font-size="7.1" font-weight="bold" fill="#6495ed" opacity="0.6">←FRZ</text>
<text x="418.50" y="423.00" font-size="7.1" font-weight="bold" fill="#6495ed" opacity="0.6">←WB0</text>
<text x="279.00" y="500.50" font-size="6.9" font-weight="bold" fill="#6495ed" opacity="0.75">69°F</text>
<text x="307.00" y="500.50" font-size="6.9" font-weight="bold" fill="#ff0000" opacity="0.75">73°F</text>
<line x1="519.40" y1="63.70" x2="519.40" y2="498.00" stroke="#000" stroke-width="0.8" opacity="0.4"/>
<path d="M519.4 93.8L501.5 94.7M506.3 94.4L504.6 88.1M508.5 94.3L506.8 88.0M510.8 94.2L509.1 87.8M513.0 94.1L512.1 90.9" stroke="#000" stroke-width="0.9" fill="none" stroke-linecap="round"/>
<path d="M501.5 94.7L501.2 88.6L504.6 94.5Z" fill="#000" stroke="#000" stroke-width="0.5" stroke-linejoin="round"/>
<circle cx="519.4" cy="93.8" r="1.45" fill="#000"/>
<path d="M519.4 99.6L501.6 101.2M506.3 100.7L504.4 94.4M508.5 100.5L506.6 94.2M510.8 100.4L508.9 94.1M513.0 100.2L511.1 93.9" stroke="#000" stroke-width="0.9" fill="none" stroke-linecap="round"/>
<path d="M501.6 101.2L501.0 95.1L504.6 100.9Z" fill="#000" stroke="#000" stroke-width="0.5" stroke-linejoin="round"/>
<circle cx="519.4" cy="99.6" r="1.45" fill="#000"/>
<path d="M519.4 120.2L501.7 122.7M506.4 122.1L504.2 115.9M508.6 121.8L506.4 115.6M510.8 121.5L508.6 115.3M513.0 121.1L510.8 114.9" stroke="#000" stroke-width="0.9" fill="none" stroke-linecap="round"/>
<path d="M501.7 122.7L500.8 116.7L504.7 122.3Z" fill="#000" stroke="#000" stroke-width="0.5" stroke-linejoin="round"/>
<circle cx="519.4" cy="120.2" r="1.45" fill="#000"/>
<path d="M519.4 136.9L501.9 140.6M506.6 139.6L503.9 133.6M508.7 139.2L506.1 133.1M510.9 138.7L508.3 132.7M513.1 138.2L510.5 132.2" stroke="#000" stroke-width="0.9" fill="none" stroke-linecap="round"/>
<path d="M501.9 140.6L500.6 134.6L504.9 140.0Z" fill="#000" stroke="#000" stroke-width="0.5" stroke-linejoin="round"/>
<circle cx="519.4" cy="136.9" r="1.45" fill="#000"/>
<path d="M519.4 146.1L502.2 151.0M506.8 149.7L503.7 143.9M508.9 149.1L505.9 143.3M511.1 148.5L508.0 142.7M513.2 147.9L510.2 142.0" stroke="#000" stroke-width="0.9" fill="none" stroke-linecap="round"/>
<path d="M502.2 151.0L500.5 145.1L505.2 150.2Z" fill="#000" stroke="#000" stroke-width="0.5" stroke-linejoin="round"/>
<circle cx="519.4" cy="146.1" r="1.45" fill="#000"/>
<path d="M519.4 162.6L502.1 167.2M506.7 166.0L503.7 160.1M508.9 165.4L505.9 159.5M511.0 164.8L508.1 159.0M513.2 164.3L511.7 161.3" stroke="#000" stroke-width="0.9" fill="none" stroke-linecap="round"/>
<path d="M502.1 167.2L500.5 161.3L505.1 166.4Z" fill="#000" stroke="#000" stroke-width="0.5" stroke-linejoin="round"/>
<circle cx="519.4" cy="162.6" r="1.45" fill="#000"/>
<path d="M519.4 173.8L502.0 177.8M506.6 176.7L503.8 170.7M508.8 176.2L506.0 170.2M511.0 175.7L508.2 169.7" stroke="#000" stroke-width="0.9" fill="none" stroke-linecap="round"/>
<path d="M502.0 177.8L500.6 171.8L505.0 177.1Z" fill="#000" stroke="#000" stroke-width="0.5" stroke-linejoin="round"/>
<circle cx="519.4" cy="173.8" r="1.45" fill="#000"/>
<path d="M519.4 192.1L502.0 196.4M506.7 195.3L503.8 189.3M508.8 194.7L506.0 188.8M511.0 194.2L509.6 191.2" stroke="#000" stroke-width="0.9" fill="none" stroke-linecap="round"/>
<path d="M502.0 196.4L500.6 190.5L505.0 195.7Z" fill="#000" stroke="#000" stroke-width="0.5" stroke-linejoin="round"/>
<circle cx="519.4" cy="192.1" r="1.45" fill="#000"/>
<path d="M519.4 201.9L502.1 206.5M506.7 205.3L503.7 199.4M508.9 204.7L505.9 198.8M511.0 204.1L509.6 201.2" stroke="#000" stroke-width="0.9" fill="none" stroke-linecap="round"/>
<path d="M502.1 206.5L500.5 200.6L505.1 205.7Z" fill="#000" stroke="#000" stroke-width="0.5" stroke-linejoin="round"/>
<circle cx="519.4" cy="201.9" r="1.45" fill="#000"/>
<path d="M519.4 212.8L502.3 218.0M506.8 216.6L503.7 210.8M509.0 215.9L505.8 210.2" stroke="#000" stroke-width="0.9" fill="none" stroke-linecap="round"/>
<path d="M502.3 218.0L500.5 212.1L505.2 217.1Z" fill="#000" stroke="#000" stroke-width="0.5" stroke-linejoin="round"/>
<circle cx="519.4" cy="212.8" r="1.45" fill="#000"/>
<path d="M519.4 228.4L502.3 233.6M506.8 232.2L503.7 226.5M509.0 231.6L505.8 225.8" stroke="#000" stroke-width="0.9" fill="none" stroke-linecap="round"/>
<path d="M502.3 233.6L500.5 227.8L505.2 232.7Z" fill="#000" stroke="#000" stroke-width="0.5" stroke-linejoin="round"/>
<circle cx="519.4" cy="228.4" r="1.45" fill="#000"/>
<path d="M519.4 248.5L502.0 252.5M506.6 251.5L503.8 245.5M508.8 251.0L506.0 245.0" stroke="#000" stroke-width="0.9" fill="none" stroke-linecap="round"/>
<path d="M502.0 252.5L500.6 246.6L505.0 251.8Z" fill="#000" stroke="#000" stroke-width="0.5" stroke-linejoin="round"/>
<circle cx="519.4" cy="248.5" r="1.45" fill="#000"/>
<path d="M519.4 256.5L502.0 260.5M506.6 259.5L503.8 253.5M508.8 259.0L506.0 253.0" stroke="#000" stroke-width="0.9" fill="none" stroke-linecap="round"/>
<path d="M502.0 260.5L500.6 254.6L505.0 259.8Z" fill="#000" stroke="#000" stroke-width="0.5" stroke-linejoin="round"/>
<circle cx="519.4" cy="256.5" r="1.45" fill="#000"/>
<path d="M519.4 270.4L501.9 274.1M506.6 273.1L503.9 267.1M508.7 272.7L507.4 269.7" stroke="#000" stroke-width="0.9" fill="none" stroke-linecap="round"/>
<path d="M501.9 274.1L500.6 268.1L504.9 273.5Z" fill="#000" stroke="#000" stroke-width="0.5" stroke-linejoin="round"/>
<circle cx="519.4" cy="270.4" r="1.45" fill="#000"/>
<path d="M519.4 285.0L502.0 289.3M506.7 288.2L503.8 282.2M508.8 287.6L507.4 284.7" stroke="#000" stroke-width="0.9" fill="none" stroke-linecap="round"/>
<path d="M502.0 289.3L500.6 283.4L505.0 288.6Z" fill="#000" stroke="#000" stroke-width="0.5" stroke-linejoin="round"/>
<circle cx="519.4" cy="285.0" r="1.45" fill="#000"/>
<path d="M519.4 298.8L501.8 301.9M506.5 301.0L504.0 294.9" stroke="#000" stroke-width="0.9" fill="none" stroke-linecap="round"/>
<path d="M501.8 301.9L500.7 295.8L504.8 301.3Z" fill="#000" stroke="#000" stroke-width="0.5" stroke-linejoin="round"/>
<circle cx="519.4" cy="298.8" r="1.45" fill="#000"/>
<path d="M519.4 312.9L501.7 315.4M506.4 314.7L505.3 311.6" stroke="#000" stroke-width="0.9" fill="none" stroke-linecap="round"/>
<path d="M501.7 315.4L500.8 309.3L504.7 315.0Z" fill="#000" stroke="#000" stroke-width="0.5" stroke-linejoin="round"/>
<circle cx="519.4" cy="312.9" r="1.45" fill="#000"/>
<path d="M519.4 328.1L502.1 332.7M502.1 332.7L499.1 326.9M504.3 332.2L501.3 326.3M506.4 331.6L503.5 325.7M508.6 331.0L505.6 325.1" stroke="#000" stroke-width="0.9" fill="none" stroke-linecap="round"/>
<circle cx="519.4" cy="328.1" r="1.45" fill="#000"/>
<path d="M519.4 341.5L502.3 346.7M502.3 346.7L499.1 341.0M504.4 346.1L501.3 340.3M506.6 345.4L503.4 339.7M508.7 344.8L505.5 339.0" stroke="#000" stroke-width="0.9" fill="none" stroke-linecap="round"/>
<circle cx="519.4" cy="341.5" r="1.45" fill="#000"/>
<path d="M519.4 355.0L502.6 361.1M502.6 361.1L499.1 355.5M504.7 360.4L501.2 354.8M506.8 359.6L503.3 354.0M508.9 358.8L507.2 356.0" stroke="#000" stroke-width="0.9" fill="none" stroke-linecap="round"/>
<circle cx="519.4" cy="355.0" r="1.45" fill="#000"/>
<path d="M519.4 370.9L502.8 377.6M502.8 377.6L499.1 372.1M504.9 376.8L501.2 371.3M507.0 375.9L503.3 370.5" stroke="#000" stroke-width="0.9" fill="none" stroke-linecap="round"/>
<circle cx="519.4" cy="370.9" r="1.45" fill="#000"/>
<path d="M519.4 383.4L503.0 390.7M503.0 390.7L499.2 385.3M505.1 389.8L501.2 384.4M507.1 388.9L503.3 383.5" stroke="#000" stroke-width="0.9" fill="none" stroke-linecap="round"/>
<circle cx="519.4" cy="383.4" r="1.45" fill="#000"/>
<path d="M519.4 398.5L502.9 405.5M502.9 405.5L499.2 400.1M505.0 404.6L501.2 399.2M507.0 403.7L505.2 401.0" stroke="#000" stroke-width="0.9" fill="none" stroke-linecap="round"/>
<circle cx="519.4" cy="398.5" r="1.45" fill="#000"/>
<path d="M519.4 405.0L501.5 406.2M501.5 406.2L499.8 399.9M503.8 406.1L502.0 399.8" stroke="#000" stroke-width="0.9" fill="none" stroke-linecap="round"/>
<circle cx="519.4" cy="405.0" r="1.45" fill="#000"/>
<path d="M519.4 422.8L503.5 414.6M503.5 414.6L505.2 408.3M505.4 415.6L506.3 412.5" stroke="#000" stroke-width="0.9" fill="none" stroke-linecap="round"/>
<circle cx="519.4" cy="422.8" r="1.45" fill="#000"/>
<path d="M519.4 432.2L503.5 424.1M503.5 424.1L505.2 417.8" stroke="#000" stroke-width="0.9" fill="none" stroke-linecap="round"/>
<circle cx="519.4" cy="432.2" r="1.45" fill="#000"/>
<path d="M519.4 451.9L505.5 463.2M508.1 461.1L505.5 459.0" stroke="#000" stroke-width="0.9" fill="none" stroke-linecap="round"/>
<circle cx="519.4" cy="451.9" r="1.45" fill="#000"/>
<path d="M519.4 464.4L513.3 481.2M513.3 481.2L506.8 480.3" stroke="#000" stroke-width="0.9" fill="none" stroke-linecap="round"/>
<circle cx="519.4" cy="464.4" r="1.45" fill="#000"/>
<path d="M519.4 479.4L511.6 495.5M511.6 495.5L505.2 493.9M512.5 493.5L509.3 492.7" stroke="#000" stroke-width="0.9" fill="none" stroke-linecap="round"/>
<circle cx="519.4" cy="479.4" r="1.45" fill="#000"/>
<path d="M519.4 490.0L535.8 497.3M532.7 495.9L532.0 499.1" stroke="#000" stroke-width="0.9" fill="none" stroke-linecap="round"/>
<circle cx="519.4" cy="490.0" r="1.45" fill="#000"/>
</g>
<rect x="15.60" y="43.20" width="74.70" height="80.60" fill="#fff" stroke="#ccc" stroke-width="0.5" fill-opacity="0.45" rx="1"/>
<line x1="17.30" y1="48.75" x2="31.20" y2="48.75" stroke="#6495ed" stroke-width="0.7" opacity="0.8" stroke-linecap="butt"/>
<text x="34.10" y="50.85" font-size="5.85" fill="#000" opacity="0.85">WETBULB TEMP</text>
<line x1="18.90" y1="57.50" x2="31.20" y2="57.50" stroke="#a52a2a" stroke-width="1.9" opacity="0.85" stroke-dasharray="0.01 4.75" stroke-linecap="round"/>
<text x="34.10" y="59.60" font-size="5.85" fill="#000" opacity="0.85">VIRTUAL TEMP</text>
<line x1="17.30" y1="66.25" x2="31.20" y2="66.25" stroke="#6495ed" stroke-width="2.9" opacity="1" stroke-linecap="butt"/>
<text x="34.10" y="68.35" font-size="5.85" fill="#000" opacity="0.85">DEWPOINT</text>
<line x1="17.30" y1="75.00" x2="31.20" y2="75.00" stroke="#ff0000" stroke-width="2.9" opacity="1" stroke-linecap="butt"/>
<text x="34.10" y="77.10" font-size="5.85" fill="#000" opacity="0.85">TEMPERATURE</text>
<line x1="17.90" y1="83.75" x2="31.20" y2="83.75" stroke="#ff0000" stroke-width="1.5" opacity="1" stroke-dasharray="6.3 2.8 3 10" stroke-linecap="butt"/>
<text x="34.10" y="85.85" font-size="5.85" fill="#000" opacity="0.85">MUECAPE PARCEL</text>
<line x1="17.90" y1="92.50" x2="31.20" y2="92.50" stroke="#808080" stroke-width="0.9" opacity="0.6" stroke-dasharray="3.6 2.8" stroke-linecap="butt"/>
<text x="34.10" y="94.60" font-size="5.85" fill="#000" opacity="0.85">SBCAPE PARCEL</text>
<line x1="17.90" y1="101.25" x2="31.20" y2="101.25" stroke="#808080" stroke-width="0.9" opacity="0.6" stroke-dasharray="3.6 2.8" stroke-linecap="butt"/>
<text x="34.10" y="103.35" font-size="5.85" fill="#000" opacity="0.85">MLCAPE PARCEL</text>
<line x1="17.90" y1="110.00" x2="31.20" y2="110.00" stroke="#808080" stroke-width="0.9" opacity="0.6" stroke-dasharray="3.6 2.8" stroke-linecap="butt"/>
<text x="34.10" y="112.10" font-size="5.85" fill="#000" opacity="0.85">MUCAPE PARCEL</text>
<line x1="17.30" y1="118.75" x2="31.20" y2="118.75" stroke="#800080" stroke-width="0.5" opacity="0.35" stroke-linecap="butt"/>
<text x="34.10" y="120.85" font-size="5.85" fill="#000" opacity="0.85">DWNDRFT PARCEL</text>
<rect x="13.50" y="41.00" width="530.00" height="461.70" fill="none" stroke="#808080" stroke-width="1.1"/>
<rect x="543.50" y="41.00" width="37.10" height="461.70" fill="#fff" stroke="none" stroke-width="1"/>
<line x1="543.50" y1="177.30" x2="580.60" y2="177.30" stroke="#000" stroke-width="1.0" opacity="0.3"/>
<line x1="543.50" y1="256.92" x2="580.60" y2="256.92" stroke="#000" stroke-width="1.0" opacity="0.3"/>
<line x1="543.50" y1="313.40" x2="580.60" y2="313.40" stroke="#000" stroke-width="1.0" opacity="0.3"/>
<line x1="543.50" y1="357.22" x2="580.60" y2="357.22" stroke="#000" stroke-width="1.0" opacity="0.3"/>
<line x1="543.50" y1="393.02" x2="580.60" y2="393.02" stroke="#000" stroke-width="1.0" opacity="0.3"/>
<line x1="543.50" y1="423.29" x2="580.60" y2="423.29" stroke="#000" stroke-width="1.0" opacity="0.3"/>
<line x1="543.50" y1="449.50" x2="580.60" y2="449.50" stroke="#000" stroke-width="1.0" opacity="0.3"/>
<line x1="543.50" y1="472.63" x2="580.60" y2="472.63" stroke="#000" stroke-width="1.0" opacity="0.3"/>
<line x1="543.50" y1="493.32" x2="580.60" y2="493.32" stroke="#000" stroke-width="1.0" opacity="0.3"/>
<rect x="558.50" y="103.00" width="3.40" height="107.60" fill="#6495ed" stroke="#6495ed" stroke-width="0.4" fill-opacity="0.34" stroke-opacity="0.4"/>
<rect x="558.30" y="210.60" width="3.60" height="68.80" fill="#6495ed" stroke="#6495ed" stroke-width="0.4" fill-opacity="0.34" stroke-opacity="0.4"/>
<rect x="561.90" y="279.40" width="5.60" height="51.20" fill="#ff0000" stroke="#ff0000" stroke-width="0.4" fill-opacity="0.3" stroke-opacity="0.3"/>
<rect x="556.40" y="370.90" width="5.50" height="33.70" fill="#6495ed" stroke="#6495ed" stroke-width="0.4" fill-opacity="0.34" stroke-opacity="0.4"/>
<rect x="561.90" y="404.60" width="2.40" height="53.50" fill="#ff0000" stroke="#ff0000" stroke-width="0.4" fill-opacity="0.3" stroke-opacity="0.3"/>
<rect x="561.90" y="458.10" width="5.60" height="22.40" fill="#ff0000" stroke="#ff0000" stroke-width="0.4" fill-opacity="0.3" stroke-opacity="0.3"/>
<line x1="561.90" y1="41.00" x2="561.90" y2="502.70" stroke="#444" stroke-width="0.9" opacity="0.8" stroke-dasharray="1.3 1"/>
<text x="560.30" y="174.00" font-size="5.0" font-weight="bold" fill="#000" text-anchor="end">-0.8</text>
<text x="560.30" y="254.60" font-size="5.0" font-weight="bold" fill="#000" text-anchor="end">-1.1</text>
<text x="562.90" y="311.80" font-size="5.0" font-weight="bold" fill="#000">1.8</text>
<text x="562.90" y="355.60" font-size="5.0" font-weight="bold" fill="#000">0.1</text>
<text x="560.30" y="391.80" font-size="5.0" font-weight="bold" fill="#000" text-anchor="end">-1.8</text>
<text x="562.90" y="421.90" font-size="5.0" font-weight="bold" fill="#000">0.8</text>
<text x="562.90" y="448.50" font-size="5.0" font-weight="bold" fill="#000">0.6</text>
<text x="562.90" y="472.00" font-size="5.0" font-weight="bold" fill="#000">1.8</text>
<rect x="543.50" y="41.00" width="37.10" height="461.70" fill="none" stroke="#808080" stroke-width="1.1"/>
<rect x="580.60" y="41.00" width="426.80" height="461.70" fill="#fff" stroke="none" stroke-width="1"/>
<g clip-path="url(#ch)">
<circle cx="704.5" cy="265.0" r="31.4" fill="none" stroke="#000" stroke-width="0.55" stroke-dasharray="2 1.3" opacity="0.3"/>
<circle cx="704.5" cy="265.0" r="62.8" fill="none" stroke="#000" stroke-width="0.8" opacity="0.4"/>
<circle cx="704.5" cy="265.0" r="94.2" fill="none" stroke="#000" stroke-width="0.55" stroke-dasharray="2 1.3" opacity="0.3"/>
<circle cx="704.5" cy="265.0" r="125.6" fill="none" stroke="#000" stroke-width="0.8" opacity="0.4"/>
<circle cx="704.5" cy="265.0" r="157.0" fill="none" stroke="#000" stroke-width="0.55" stroke-dasharray="2 1.3" opacity="0.3"/>
<circle cx="704.5" cy="265.0" r="188.4" fill="none" stroke="#000" stroke-width="0.8" opacity="0.4"/>
<circle cx="704.5" cy="265.0" r="219.8" fill="none" stroke="#000" stroke-width="0.55" stroke-dasharray="2 1.3" opacity="0.3"/>
<circle cx="704.5" cy="265.0" r="251.2" fill="none" stroke="#000" stroke-width="0.8" opacity="0.4"/>
<circle cx="704.5" cy="265.0" r="282.6" fill="none" stroke="#000" stroke-width="0.55" stroke-dasharray="2 1.3" opacity="0.3"/>
<circle cx="704.5" cy="265.0" r="314.0" fill="none" stroke="#000" stroke-width="0.8" opacity="0.4"/>
<circle cx="704.5" cy="265.0" r="345.4" fill="none" stroke="#000" stroke-width="0.55" stroke-dasharray="2 1.3" opacity="0.3"/>
<circle cx="704.5" cy="265.0" r="376.8" fill="none" stroke="#000" stroke-width="0.8" opacity="0.4"/>
<circle cx="704.5" cy="265.0" r="408.2" fill="none" stroke="#000" stroke-width="0.55" stroke-dasharray="2 1.3" opacity="0.3"/>
<circle cx="704.5" cy="265.0" r="439.6" fill="none" stroke="#000" stroke-width="0.8" opacity="0.4"/>
<circle cx="704.5" cy="265.0" r="471.0" fill="none" stroke="#000" stroke-width="0.55" stroke-dasharray="2 1.3" opacity="0.3"/>
<line x1="580.60" y1="265.00" x2="1007.40" y2="265.00" stroke="#000" stroke-width="0.7" opacity="0.45" stroke-dasharray="1.1 0.5"/>
<line x1="704.50" y1="41.00" x2="704.50" y2="502.70" stroke="#000" stroke-width="0.7" opacity="0.45" stroke-dasharray="1.1 0.5"/>
<text x="736.20" y="264.10" font-size="6.7" fill="#000" opacity="0.3">10</text>
<text x="673.40" y="264.10" font-size="6.7" fill="#000" opacity="0.3">10</text>
<text x="704.80" y="232.70" font-size="6.7" fill="#000" opacity="0.3">10</text>
<text x="704.80" y="295.50" font-size="6.7" fill="#000" opacity="0.3">10</text>
<text x="799.00" y="264.10" font-size="6.7" fill="#000" opacity="0.3">30</text>
<text x="610.60" y="264.10" font-size="6.7" fill="#000" opacity="0.3">30</text>
<text x="704.80" y="169.90" font-size="6.7" fill="#000" opacity="0.3">30</text>
<text x="704.80" y="358.30" font-size="6.7" fill="#000" opacity="0.3">30</text>
<text x="861.80" y="264.10" font-size="6.7" fill="#000" opacity="0.3">50</text>
<text x="547.80" y="264.10" font-size="6.7" fill="#000" opacity="0.3">50</text>
<text x="704.80" y="107.10" font-size="6.7" fill="#000" opacity="0.3">50</text>
<text x="704.80" y="421.10" font-size="6.7" fill="#000" opacity="0.3">50</text>
<text x="924.60" y="264.10" font-size="6.7" fill="#000" opacity="0.3">70</text>
<text x="485.00" y="264.10" font-size="6.7" fill="#000" opacity="0.3">70</text>
<text x="704.80" y="44.30" font-size="6.7" fill="#000" opacity="0.3">70</text>
<text x="704.80" y="483.90" font-size="6.7" fill="#000" opacity="0.3">70</text>
<text x="987.40" y="264.10" font-size="6.7" fill="#000" opacity="0.3">90</text>
<text x="422.20" y="264.10" font-size="6.7" fill="#000" opacity="0.3">90</text>
<text x="704.80" y="-18.50" font-size="6.7" fill="#000" opacity="0.3">90</text>
<text x="704.80" y="546.70" font-size="6.7" fill="#000" opacity="0.3">90</text>
<text x="1050.20" y="264.10" font-size="6.7" fill="#000" opacity="0.3">110</text>
<text x="359.40" y="264.10" font-size="6.7" fill="#000" opacity="0.3">110</text>
<text x="704.80" y="-81.30" font-size="6.7" fill="#000" opacity="0.3">110</text>
<text x="704.80" y="609.50" font-size="6.7" fill="#000" opacity="0.3">110</text>
<path d="M761.8 288.8 L724.5 222.5 L711.0 234.5Z" stroke="#87ceeb" stroke-width="0.4" fill="#add8e6" stroke-linejoin="round" stroke-linecap="butt" opacity="0.32"/>
<line x1="704.50" y1="265.00" x2="761.50" y2="288.60" stroke="#000" stroke-width="1.4" opacity="0.25"/>
<path d="M907.5 210.8 L911.8 207.5 L913.0 195.0 L916.2 187.5 L926.8 188.0 L935.5 193.8 L944.0 197.0 L949.3 197.4" stroke="#ffe9a0" stroke-width="3.4" fill="none" stroke-linejoin="round" stroke-linecap="round"/>
<path d="M815.5 221.5 L830.5 224.2 L843.0 228.8 L853.0 232.5 L863.0 235.0 L870.5 234.2 L888.0 221.2 L894.5 214.2 L907.5 210.8" stroke="#ffd700" stroke-width="3.4" fill="none" stroke-linejoin="round" stroke-linecap="round"/>
<path d="M749.2 282.6 L761.8 257.5 L764.2 245.0 L764.2 237.5 L795.0 223.2 L815.5 212.8" stroke="#ff8c00" stroke-width="3.4" fill="none" stroke-linejoin="round" stroke-linecap="round"/>
<path d="M710.0 234.2 L716.0 235.2 L719.6 241.3 L716.8 253.8 L723.5 257.0 L726.8 259.2 L745.6 288.6" stroke="#ff0000" stroke-width="3.4" fill="none" stroke-linejoin="round" stroke-linecap="round"/>
<path d="M693.0 261.2 L690.0 235.3 L701.0 222.0 L715.5 210.0 L723.0 217.5 L724.2 222.5 L719.2 226.2 L706.0 229.5 L701.8 231.0 L710.0 234.2" stroke="#800080" stroke-width="3.4" fill="none" stroke-linejoin="round" stroke-linecap="butt"/>
<text x="723.40" y="252.90" font-size="5.2" font-weight="bold" fill="#b22222" opacity="0.9">DTM</text>
<text x="728.60" y="260.80" font-size="5" font-weight="bold" fill="#b22222" opacity="0.8">∨</text>
<circle cx="724.2" cy="222.5" r="4.3" fill="#fff" stroke="#000" stroke-width="0.7"/>
<text x="724.25" y="224.90" font-size="6.5" font-weight="bold" fill="#000" text-anchor="middle">.5</text>
<circle cx="710.0" cy="234.2" r="4.3" fill="#fff" stroke="#000" stroke-width="0.7"/>
<text x="710.00" y="236.65" font-size="6.5" font-weight="bold" fill="#000" text-anchor="middle">1</text>
<circle cx="726.8" cy="259.2" r="4.3" fill="#fff" stroke="#000" stroke-width="0.7"/>
<text x="726.75" y="261.65" font-size="6.5" font-weight="bold" fill="#000" text-anchor="middle">2</text>
<circle cx="746.8" cy="284.2" r="4.3" fill="#fff" stroke="#000" stroke-width="0.7"/>
<text x="746.75" y="286.65" font-size="6.5" font-weight="bold" fill="#000" text-anchor="middle">3</text>
<circle cx="764.2" cy="237.5" r="4.3" fill="#fff" stroke="#000" stroke-width="0.7"/>
<text x="764.25" y="239.90" font-size="6.5" font-weight="bold" fill="#000" text-anchor="middle">4</text>
<circle cx="795.0" cy="223.2" r="4.3" fill="#fff" stroke="#000" stroke-width="0.7"/>
<text x="795.00" y="225.65" font-size="6.5" font-weight="bold" fill="#000" text-anchor="middle">5</text>
<circle cx="816.8" cy="217.5" r="4.3" fill="#fff" stroke="#000" stroke-width="0.7"/>
<text x="816.75" y="219.90" font-size="6.5" font-weight="bold" fill="#000" text-anchor="middle">6</text>
<circle cx="843.0" cy="228.8" r="4.3" fill="#fff" stroke="#000" stroke-width="0.7"/>
<text x="843.00" y="231.15" font-size="6.5" font-weight="bold" fill="#000" text-anchor="middle">7</text>
<circle cx="894.5" cy="214.2" r="4.3" fill="#fff" stroke="#000" stroke-width="0.7"/>
<text x="894.50" y="216.65" font-size="6.5" font-weight="bold" fill="#000" text-anchor="middle">8</text>
<circle cx="907.5" cy="210.8" r="4.3" fill="#fff" stroke="#000" stroke-width="0.7"/>
<text x="907.50" y="213.15" font-size="6.5" font-weight="bold" fill="#000" text-anchor="middle">9</text>
<circle cx="916.2" cy="187.5" r="4.3" fill="#fff" stroke="#000" stroke-width="0.7"/>
<text x="916.25" y="189.90" font-size="6.5" font-weight="bold" fill="#000" text-anchor="middle">11</text>
<text x="763.40" y="289.70" font-size="7.5" font-weight="bold" fill="#111">RM</text>
<text x="762.80" y="199.00" font-size="7.5" font-weight="bold" fill="#111">LM</text>
<text x="786.50" y="246.40" font-size="7.5" font-weight="bold" fill="#111">MW</text>
<text x="783.60" y="275.00" font-size="5.9" fill="#ffa500" opacity="0.6">UP</text>
<text x="873.30" y="250.80" font-size="5.9" fill="#ffa500" opacity="0.6">DN</text>
<text x="589.60" y="52.20" font-size="8.72" font-weight="bold" fill="#000" opacity="0.62">SM: RIGHT MOVING | ESE @ 19 kts</text>
<text x="589.60" y="64.70" font-size="8.65" fill="#000" opacity="0.6">RM: ESE @ 19 kts</text>
<text x="589.60" y="81.05" font-size="8.65" fill="#000" opacity="0.6">LM: NE @ 28 kts</text>
<text x="589.60" y="97.40" font-size="8.65" fill="#000" opacity="0.6">MW: ENE @ 26 kts</text>
<text x="586.40" y="113.75" font-size="8.65" fill="#000" opacity="0.6">DTM: ENE @ 8 kts</text>
<text x="589.60" y="130.10" font-size="8.65" fill="#000" opacity="0.6">US: E @ 27 kts</text>
<text x="589.60" y="146.45" font-size="8.65" fill="#000" opacity="0.6">DS: E @ 55 kts</text>
</g>
<rect x="580.40" y="394.20" width="108.30" height="108.20" fill="#b7b9b3" stroke="none" stroke-width="1"/>
<g clip-path="url(#cm)">
<g clip-path="url(#ct0)">
<path d="M580.0 402.1 L598.4 402.1M580.0 411.8 L598.4 411.8M598.4 394.0 L598.4 419.0M598.4 400.2 L606.9 400.2M606.9 395.9 L606.9 404.6 L609.4 405.2 L613.1 405.6 L623.8 405.6M612.8 405.6 L612.8 422.8M624.4 394.0 L624.4 423.4M580.0 419.3 L584.4 419.3 L584.7 422.8 L586.2 423.7 L588.1 425.9 L593.1 426.5 L593.4 419.3 L613.1 419.3M611.9 423.4 L627.5 423.4M611.6 423.4 L611.6 434.0M627.5 423.4 L627.5 434.0M593.4 427.8 L597.5 428.4 L598.1 431.5 L598.8 430.2 L608.1 428.4 L611.2 428.2M625.0 419.0 L644.0 419.0M625.0 405.6 L627.5 407.1 L630.0 410.2 L633.1 412.8 L633.8 415.9 L638.1 416.5 L642.5 417.4M638.4 394.0 L638.4 416.5M638.8 402.1 L644.0 402.1M628.1 428.4 L638.1 428.1 L637.8 425.2 L644.0 424.6M633.8 429.6 L633.8 432.1 L642.5 432.8M580.0 395.9 L644.0 395.9" fill="none" stroke="#555553" stroke-width="0.85" stroke-opacity="0.85" stroke-linejoin="round"/>
</g>
<g clip-path="url(#ct1)">
<path d="M638.5 394.0 L638.5 417.1M638.5 402.1 L652.7 402.1M628.0 404.9 L638.5 404.9M652.7 394.0 L652.7 402.8 L655.5 404.0 L657.4 402.8 L657.4 417.1M652.7 397.1 L664.2 397.1M664.6 394.0 L664.6 400.2 L667.4 400.6 L667.7 404.3 L670.5 405.6 L673.0 404.0 L674.2 401.5 L675.5 400.2 L688.0 400.2M677.4 394.0 L677.4 400.2M670.5 405.6 L670.5 410.9M658.0 407.3 L670.5 407.3M670.5 410.9 L675.5 409.6 L679.9 408.7 L684.2 407.4 L688.3 407.1M670.5 410.9 L668.0 412.8 L667.4 414.6 L667.4 427.8 L665.5 430.2M648.6 404.3 L648.6 417.8 L649.9 418.4 L654.9 417.8 L655.5 418.4 L658.0 417.4 L658.6 421.5 L655.5 424.0 L655.5 430.2 L665.5 430.2M648.6 404.3 L655.5 404.3M658.6 421.5 L667.4 421.5M628.0 409.3 L631.8 411.5 L633.6 415.9 L638.5 416.5 L644.2 417.4 L644.6 425.9 L647.4 427.1 L647.4 428.4 L655.5 428.4M628.0 419.0 L644.2 419.0M637.4 425.2 L644.6 424.9M637.4 425.2 L638.0 428.1 L628.0 428.4M633.3 428.7 L633.3 432.1 L640.5 432.4 L642.4 434.0M647.4 428.4 L645.5 429.6 L645.2 434.0M667.4 423.4 L672.4 423.7 L673.6 426.2 L679.2 426.5 L683.0 425.9 L683.6 414.6 L688.3 413.4M679.2 426.5 L676.1 429.0 L675.5 434.0M684.2 407.4 L684.6 410.2 L688.3 410.9M683.0 423.4 L688.3 423.4M658.6 430.2 L658.6 434.0" fill="none" stroke="#555553" stroke-width="0.85" stroke-opacity="0.85" stroke-linejoin="round"/>
</g>
<g clip-path="url(#ct2)">
<path d="M589.4 436.6 L589.4 470.0M580.0 446.4 L604.1 446.4M580.0 458.4 L604.1 458.4M604.1 440.0 L604.1 470.0M604.1 456.6 L616.9 456.9 L644.0 457.5M616.2 445.3 L616.2 456.9M617.5 457.2 L617.5 470.0M629.4 446.9 L629.4 457.2M632.2 457.5 L632.2 470.0M611.2 430.0 L611.2 438.4M611.2 434.4 L627.2 434.4M627.5 430.0 L627.5 442.5M627.5 440.3 L644.0 440.3M597.8 430.0 L598.1 433.1M633.8 430.0 L633.8 432.2 L642.5 432.8 L644.0 433.1" fill="none" stroke="#555553" stroke-width="0.85" stroke-opacity="0.85" stroke-linejoin="round"/>
</g>
<g clip-path="url(#ct3)">
<path d="M629.6 446.6 L629.6 457.5M628.0 457.5 L659.2 457.5M644.6 445.0 L644.6 457.5M659.6 450.6 L659.6 459.4 L673.6 458.4M673.6 446.2 L673.6 470.0M673.6 456.9 L681.8 456.2 L685.5 458.1 L688.3 459.4M673.6 463.1 L678.0 461.2 L684.2 459.4 L688.3 459.1M632.4 457.8 L632.4 470.0M646.8 458.1 L646.8 470.0M661.4 459.4 L661.4 470.0M633.3 430.0 L633.6 432.2 L640.5 432.5 L642.4 433.1 L644.9 433.1M644.6 433.1 L644.6 440.3M628.0 440.3 L643.6 440.3M644.6 437.2 L652.4 437.5 L654.9 439.4 L658.0 438.8 L658.6 430.0M658.6 437.8 L671.1 438.1 L671.8 445.0M675.5 430.0 L675.5 438.1M671.8 438.1 L688.3 437.8" fill="none" stroke="#555553" stroke-width="0.85" stroke-opacity="0.85" stroke-linejoin="round"/>
</g>
<g clip-path="url(#ct4)">
<path d="M580.0 470.1 L603.8 470.4 L605.0 469.1 L644.0 469.1M589.4 466.0 L589.4 470.1M604.1 466.0 L604.1 469.8M617.5 466.0 L617.5 469.1M631.9 466.0 L631.9 469.1M585.3 470.1 L585.3 494.1M580.0 482.4 L613.8 482.4 L614.1 481.3 L644.0 481.3M599.7 470.4 L599.7 482.2M613.4 469.8 L613.4 482.2M627.5 469.1 L627.5 481.3M641.6 469.1 L641.6 481.3M602.5 482.4 L602.5 489.4M613.8 482.4 L616.9 489.4M625.9 481.6 L625.9 489.1M640.3 481.6 L640.3 489.1M580.0 494.4 L587.5 494.4M583.1 494.4 L583.1 501.9" fill="none" stroke="#555553" stroke-width="0.85" stroke-opacity="0.85" stroke-linejoin="round"/>
</g>
<g clip-path="url(#ct5)">
<path d="M628.0 469.1 L673.0 469.1M641.4 469.1 L641.4 481.3M628.0 481.3 L655.5 481.3M655.5 469.4 L655.5 481.3M655.5 474.1 L661.4 474.1 L661.8 466.0M667.4 474.1 L667.4 486.6M661.4 473.8 L670.5 473.8M673.3 466.0 L673.3 469.8M670.5 471.6 L673.0 469.8 L688.3 470.4M670.5 471.6 L671.1 473.5 L675.5 475.4 L680.5 477.6 L684.2 479.8 L688.3 480.4M679.2 470.4 L679.2 477.2M680.5 477.6 L681.1 483.5 L684.2 486.6 L684.6 501.9M655.5 481.3 L658.0 487.2 L661.8 489.1M658.0 486.6 L683.6 486.6M640.5 481.3 L640.5 489.4M684.6 492.2 L688.3 492.6" fill="none" stroke="#555553" stroke-width="0.85" stroke-opacity="0.85" stroke-linejoin="round"/>
</g>
<path d="M580.0 431.2 L582.5 432.8 L583.4 436.2 L589.4 436.6 L592.5 437.8 L596.2 438.1 L598.8 437.5 L601.6 439.7 L603.8 440.0 L605.6 438.4 L612.5 438.4 L613.4 441.2 L616.9 442.8 L617.2 445.3 L619.4 445.6 L622.5 443.4 L625.0 442.5 L626.6 443.4 L626.9 444.7 L629.4 445.3 L631.2 446.9 L634.4 445.6 L636.6 445.0 L637.5 448.8 L639.1 449.4 L640.6 446.2 L643.0 444.1 L644.6 443.1 L646.1 445.0 L649.2 446.4 L651.8 444.7 L653.0 444.7 L654.2 446.6 L656.8 448.1 L659.2 448.8 L660.5 450.3 L662.7 448.4 L665.5 447.5 L668.0 446.6 L671.8 445.3 L674.2 446.2 L678.0 445.0 L681.1 443.6 L683.0 445.0 L689.0 445.6" stroke="#111" stroke-width="1.6" fill="none" stroke-linejoin="round" stroke-linecap="butt"/>
</g>
<rect x="580.40" y="394.20" width="108.30" height="108.20" fill="none" stroke="#5a5a55" stroke-width="0.9"/>
<circle cx="634.4" cy="474.75" r="2.8" fill="none" stroke="#000" stroke-width="1.4"/>
<line x1="629.10" y1="474.75" x2="639.70" y2="474.75" stroke="#000" stroke-width="1.3"/>
<line x1="634.40" y1="469.45" x2="634.40" y2="480.05" stroke="#000" stroke-width="1.3"/>
<rect x="587.80" y="489.80" width="92.40" height="10.80" fill="#fff" stroke="#666" stroke-width="0.5" fill-opacity="0.9"/>
<text x="633.90" y="497.20" font-size="7.4" font-weight="bold" fill="#222" text-anchor="middle">RADAR UNAVAILABLE</text>
<rect x="915.40" y="426.00" width="92.00" height="76.70" fill="#fff" stroke="#808080" stroke-width="0.9"/>
<text x="922.60" y="438.20" font-size="7.5" font-weight="bold" fill="#111">0-3<tspan font-size="4.1" letter-spacing="0.8">km</tspan> SRH,</text>
<text x="976.50" y="438.20" font-size="7.5" font-weight="bold" fill="#111">BWD</text>
<text x="925.80" y="451.00" font-size="7.5" font-weight="bold" fill="#4169e1" opacity="0.9">75 m²/s²</text>
<text x="975.70" y="451.00" font-size="7.5" font-weight="bold" fill="#4169e1" opacity="0.9">18 kt</text>
<text x="922.60" y="463.20" font-size="7.5" font-weight="bold" fill="#111">0-6<tspan font-size="4.1" letter-spacing="0.8">km</tspan> SRH,</text>
<text x="976.50" y="463.20" font-size="7.5" font-weight="bold" fill="#111">BWD</text>
<text x="923.20" y="474.70" font-size="7.5" font-weight="bold" fill="#4169e1" opacity="0.9">164 m²/s²</text>
<text x="975.20" y="474.70" font-size="7.5" font-weight="bold" fill="#4169e1" opacity="0.9">41 kt</text>
<text x="928.20" y="487.60" font-size="7.5" font-weight="bold" fill="#111" text-anchor="middle">SCP</text>
<text x="950.80" y="487.60" font-size="7.5" font-weight="bold" fill="#111" text-anchor="middle">STP</text>
<text x="974.10" y="486.70" font-size="7.5" font-weight="bold" fill="#111" text-anchor="middle">EHI</text>
<text x="997.20" y="486.70" font-size="7.5" font-weight="bold" fill="#111" text-anchor="middle">EHI</text>
<text x="974.10" y="491.30" font-size="4.3" font-weight="bold" fill="#111" text-anchor="middle">0−1km</text>
<text x="997.20" y="491.30" font-size="4.3" font-weight="bold" fill="#111" text-anchor="middle">0−3km</text>
<text x="928.20" y="498.30" font-size="7.5" font-weight="bold" fill="#cd5c5c" text-anchor="middle">0</text>
<text x="950.80" y="498.30" font-size="7.5" font-weight="bold" fill="#cd5c5c" text-anchor="middle">0</text>
<text x="973.80" y="498.30" font-size="7.5" font-weight="bold" fill="#ff7f3f" text-anchor="middle">2</text>
<text x="997.00" y="498.30" font-size="7.5" font-weight="bold" fill="#ff7f3f" text-anchor="middle">1</text>
<rect x="580.60" y="41.00" width="426.80" height="461.70" fill="none" stroke="#808080" stroke-width="1.1"/>
<rect x="13.50" y="502.70" width="372.70" height="97.60" fill="#fff" stroke="#808080" stroke-width="1.1"/>
<text x="55.40" y="519.00" font-size="8.65" font-weight="bold" fill="#000">SR-ECAPE</text>
<text x="124.50" y="519.00" font-size="8.65" font-weight="bold" fill="#000">CAPE</text>
<text x="176.90" y="519.00" font-size="8.65" font-weight="bold" fill="#000">6CAPE</text>
<text x="236.00" y="519.00" font-size="8.65" font-weight="bold" fill="#000">3CAPE</text>
<text x="297.60" y="519.00" font-size="8.65" font-weight="bold" fill="#000">CIN</text>
<text x="350.70" y="519.00" font-size="8.65" font-weight="bold" fill="#000">LCL</text>
<text x="19.00" y="536.00" font-size="8.65" font-weight="bold" fill="#000">SB:</text>
<text x="55.40" y="536.00" font-size="8.65" font-weight="bold" fill="#b22222" opacity="0.9">1130 J/kg</text>
<text x="115.30" y="536.00" font-size="8.65" font-weight="bold" fill="#ff4500" opacity="0.9">1479 J/kg</text>
<text x="174.50" y="536.00" font-size="8.65" font-weight="bold" fill="#ff4500" opacity="0.9">478 J/kg</text>
<text x="233.50" y="536.00" font-size="8.65" font-weight="bold" fill="#ff4500" opacity="0.9">0 J/kg</text>
<text x="289.40" y="536.00" font-size="8.65" font-weight="bold" fill="#ff4500" opacity="0.9">-315 J/kg</text>
<text x="344.80" y="536.00" font-size="8.65" font-weight="bold" fill="#ff4500" opacity="0.9">271 m</text>
<text x="19.00" y="552.00" font-size="8.65" font-weight="bold" fill="#000">MU:</text>
<text x="55.40" y="552.00" font-size="8.65" font-weight="bold" fill="#b22222" opacity="0.9">2557 J/kg</text>
<text x="115.30" y="552.00" font-size="8.65" font-weight="bold" fill="#ff4500" opacity="0.9">3709 J/kg</text>
<text x="174.50" y="552.00" font-size="8.65" font-weight="bold" fill="#ff4500" opacity="0.9">972 J/kg</text>
<text x="233.50" y="552.00" font-size="8.65" font-weight="bold" fill="#ff4500" opacity="0.9">77 J/kg</text>
<text x="289.40" y="552.00" font-size="8.65" font-weight="bold" fill="#ff4500" opacity="0.9">-42 J/kg</text>
<text x="344.80" y="552.00" font-size="8.65" font-weight="bold" fill="#ff4500" opacity="0.9">1240 m</text>
<text x="19.00" y="568.00" font-size="8.65" font-weight="bold" fill="#000">ML:</text>
<text x="55.40" y="568.00" font-size="8.65" font-weight="bold" fill="#b22222" opacity="0.9">1906 J/kg</text>
<text x="115.30" y="568.00" font-size="8.65" font-weight="bold" fill="#ff4500" opacity="0.9">2429 J/kg</text>
<text x="174.50" y="568.00" font-size="8.65" font-weight="bold" fill="#ff4500" opacity="0.9">692 J/kg</text>
<text x="233.50" y="568.00" font-size="8.65" font-weight="bold" fill="#ff4500" opacity="0.9">22 J/kg</text>
<text x="289.40" y="568.00" font-size="8.65" font-weight="bold" fill="#ff4500" opacity="0.9">-186 J/kg</text>
<text x="344.80" y="568.00" font-size="8.65" font-weight="bold" fill="#ff4500" opacity="0.9">555 m</text>
<text x="19.00" y="583.00" font-size="8.65" font-weight="bold" fill="#000">DCAPE:</text>
<text x="60.00" y="583.00" font-size="8.65" font-weight="bold" fill="#6495ed" opacity="0.75">1443 J/kg</text>
<text x="19.00" y="594.00" font-size="8.65" font-weight="bold" fill="#000">DCIN:</text>
<text x="60.00" y="594.00" font-size="8.65" font-weight="bold" fill="#6495ed" opacity="0.75">0 J/kg</text>
<text x="120.20" y="590.00" font-size="8.65" font-weight="bold" fill="#000">MUNCAPE:</text>
<text x="173.50" y="590.00" font-size="8.65" font-weight="bold" fill="#cd5c5c" opacity="0.85">0.3</text>
<text x="207.30" y="590.00" font-size="8.65" font-weight="bold" fill="#000">Γ<tspan font-size="5.2" dy="0.4">0–3</tspan><tspan dy="-0.4">:</tspan></text>
<text x="234.50" y="590.00" font-size="8.65" font-weight="bold" fill="#8b4513" opacity="0.9">5 Δ°C/km</text>
<text x="289.70" y="590.00" font-size="8.65" font-weight="bold" fill="#000">Γ<tspan font-size="5.2" dy="0.4">3–6</tspan><tspan dy="-0.4">:</tspan></text>
<text x="320.00" y="590.00" font-size="8.65" font-weight="bold" fill="#8b4513" opacity="0.9">7 Δ°C/km</text>
<text x="56.30" y="615.00" font-size="11.56" font-weight="bold" fill="#6495ed" opacity="0.6">SOUNDERPY VERTICAL PROFILE ANALYSIS TOOL</text>
<text x="95.20" y="626.00" font-size="8.71" font-weight="bold" fill="#6495ed" opacity="0.6">KYLE J GILLETT | sounderpysoundings.anvil.app</text>
<circle cx="32.0" cy="616.1" r="13.5" fill="#e4e8f2" stroke="#555" stroke-width="0.8"/>
<text x="31.00" y="616.00" font-size="5.3" font-weight="bold" fill="#111" text-anchor="middle" textLength="24.2" lengthAdjust="spacingAndGlyphs">SOUNDER</text>
<text x="35.60" y="622.00" font-size="7.4" fill="#3a9a3a" text-anchor="middle" opacity="0.85">P</text>
<text x="42.60" y="622.00" font-size="7.6" font-weight="bold" fill="#e02020" text-anchor="middle" opacity="0.9">Y</text>
<text x="32.00" y="627.00" font-size="2.6" fill="#555" text-anchor="middle">ANALYSIS</text>
<rect x="386.20" y="502.70" width="137.60" height="124.60" fill="#fff" stroke="#808080" stroke-width="1.1"/>
<text x="434.60" y="519.00" font-size="8.65" font-weight="bold" fill="#000">RH(%)</text>
<text x="486.90" y="519.00" font-size="8.65" font-weight="bold" fill="#000">ω</text>
<text x="395.50" y="536.00" font-size="8.65" font-weight="bold" fill="#000">0-.5<tspan font-size="4.84" letter-spacing="0.9">km</tspan>:</text>
<line x1="395.80" y1="525.99" x2="409.40" y2="525.99" stroke="#000" stroke-width="0.6"/>
<text x="436.50" y="536.00" font-size="8.65" font-weight="bold" fill="#228b22" opacity="0.95">87 %</text>
<text x="468.80" y="536.00" font-size="8.65" font-weight="bold" fill="#228b22" opacity="0.95">16.5 g/kg</text>
<text x="395.50" y="552.00" font-size="8.65" font-weight="bold" fill="#000">0-1<tspan font-size="4.84" letter-spacing="0.9">km</tspan>:</text>
<line x1="395.80" y1="542.26" x2="409.40" y2="542.26" stroke="#000" stroke-width="0.6"/>
<text x="436.50" y="552.00" font-size="8.65" font-weight="bold" fill="#228b22" opacity="0.92">80 %</text>
<text x="468.80" y="552.00" font-size="8.65" font-weight="bold" fill="#228b22" opacity="0.95">16.0 g/kg</text>
<text x="395.50" y="568.00" font-size="8.65" font-weight="bold" fill="#000">1-3<tspan font-size="4.84" letter-spacing="0.9">km</tspan>:</text>
<line x1="395.80" y1="558.53" x2="409.40" y2="558.53" stroke="#000" stroke-width="0.6"/>
<text x="436.50" y="568.00" font-size="8.65" font-weight="bold" fill="#228b22" opacity="0.75">25 %</text>
<text x="468.80" y="568.00" font-size="8.65" font-weight="bold" fill="#228b22" opacity="0.78">4.5 g/kg</text>
<text x="395.50" y="585.00" font-size="8.65" font-weight="bold" fill="#000">3-6<tspan font-size="4.84" letter-spacing="0.9">km</tspan>:</text>
<line x1="395.80" y1="574.80" x2="409.40" y2="574.80" stroke="#000" stroke-width="0.6"/>
<text x="436.50" y="585.00" font-size="8.65" font-weight="bold" fill="#228b22" opacity="0.62">10 %</text>
<text x="468.80" y="585.00" font-size="8.65" font-weight="bold" fill="#228b22" opacity="0.68">0.7 g/kg</text>
<text x="395.50" y="601.00" font-size="8.65" font-weight="bold" fill="#000">6-9<tspan font-size="4.84" letter-spacing="0.9">km</tspan>:</text>
<line x1="395.80" y1="591.07" x2="409.40" y2="591.07" stroke="#000" stroke-width="0.6"/>
<text x="436.50" y="601.00" font-size="8.65" font-weight="bold" fill="#228b22" opacity="0.7">53 %</text>
<text x="468.80" y="601.00" font-size="8.65" font-weight="bold" fill="#228b22" opacity="0.68">1.0 g/kg</text>
<text x="395.50" y="613.00" font-size="6.87" font-weight="bold" fill="#000">PWAT:</text>
<text x="425.20" y="613.00" font-size="6.87" font-weight="bold" fill="#228b22">1.125 in</text>
<text x="465.80" y="613.00" font-size="6.87" font-weight="bold" fill="#000">WB:</text>
<text x="490.80" y="613.00" font-size="6.87" font-weight="bold" fill="#228b22">21 °C</text>
<text x="395.50" y="624.00" font-size="6.87" font-weight="bold" fill="#000">FRZ:</text>
<text x="427.80" y="624.00" font-size="6.87" font-weight="bold" fill="#6495ed" opacity="0.9">4200m</text>
<text x="463.50" y="624.00" font-size="6.87" font-weight="bold" fill="#000">WB0:</text>
<text x="488.30" y="624.00" font-size="6.87" font-weight="bold" fill="#6495ed" opacity="0.9">3000m</text>
<rect x="523.80" y="502.70" width="243.60" height="124.60" fill="#fff" stroke="#808080" stroke-width="1.1"/>
<text x="574.50" y="519.00" font-size="8.65" font-weight="bold" fill="#000" opacity="0.8">BWD</text>
<text x="618.50" y="519.00" font-size="8.65" font-weight="bold" fill="#000" opacity="0.8">SRH</text>
<text x="659.90" y="519.00" font-size="8.65" font-weight="bold" fill="#000" opacity="0.8">SRW</text>
<text x="691.70" y="519.00" font-size="8.65" font-weight="bold" fill="#000" opacity="0.8">SWζ%</text>
<text x="733.30" y="519.00" font-size="8.65" font-weight="bold" fill="#000" opacity="0.8">SWζ</text>
<text x="532.20" y="536.00" font-size="8.65" font-weight="bold" fill="#111">0-.5<tspan font-size="4.84" letter-spacing="0.9">km</tspan>:</text>
<text x="572.00" y="536.00" font-size="8.65" font-weight="bold" fill="#6495ed">15 kt</text>
<text x="605.80" y="536.00" font-size="8.65" font-weight="bold" fill="#6495ed">135 m²/s²</text>
<text x="660.10" y="536.00" font-size="8.65" font-weight="bold" fill="#6495ed">23 kt</text>
<text x="704.30" y="536.00" font-size="8.65" font-weight="bold" fill="#6495ed" text-anchor="middle">79</text>
<text x="730.80" y="536.00" font-size="8.65" font-weight="bold" fill="#6495ed">0.022</text>
<text x="532.20" y="552.00" font-size="8.65" font-weight="bold" fill="#111">0-1<tspan font-size="4.84" letter-spacing="0.9">km</tspan>:</text>
<text x="572.00" y="552.00" font-size="8.65" font-weight="bold" fill="#6495ed">9 kt</text>
<text x="605.80" y="552.00" font-size="8.65" font-weight="bold" fill="#6495ed">95 m²/s²</text>
<text x="660.10" y="552.00" font-size="8.65" font-weight="bold" fill="#6495ed">23 kt</text>
<text x="704.30" y="552.00" font-size="8.65" font-weight="bold" fill="#6495ed" text-anchor="middle">78</text>
<text x="730.80" y="552.00" font-size="8.65" font-weight="bold" fill="#6495ed">0.014</text>
<text x="532.20" y="568.00" font-size="8.65" font-weight="bold" fill="#111">1-3<tspan font-size="4.84" letter-spacing="0.9">km</tspan>:</text>
<text x="572.00" y="568.00" font-size="8.65" font-weight="bold" fill="#6495ed">20 kt</text>
<text x="605.80" y="568.00" font-size="8.65" font-weight="bold" fill="#6495ed">-20 m²/s²</text>
<text x="660.10" y="568.00" font-size="8.65" font-weight="bold" fill="#6495ed">14 kt</text>
<text x="704.30" y="568.00" font-size="8.65" font-weight="bold" fill="#6495ed" text-anchor="middle">54</text>
<text x="730.80" y="568.00" font-size="8.65" font-weight="bold" fill="#6495ed">0.003</text>
<text x="532.20" y="585.00" font-size="8.65" font-weight="bold" fill="#111">3-6<tspan font-size="4.84" letter-spacing="0.9">km</tspan>:</text>
<text x="572.00" y="585.00" font-size="8.65" font-weight="bold" fill="#6495ed">30 kt</text>
<text x="605.80" y="585.00" font-size="8.65" font-weight="bold" fill="#6495ed">89 m²/s²</text>
<text x="660.10" y="585.00" font-size="8.65" font-weight="bold" fill="#6495ed">16 kt</text>
<text x="704.30" y="585.00" font-size="8.65" font-weight="bold" fill="#6495ed" text-anchor="middle">66</text>
<text x="730.80" y="585.00" font-size="8.65" font-weight="bold" fill="#6495ed">0.004</text>
<text x="532.20" y="601.00" font-size="8.65" font-weight="bold" fill="#111">6-9<tspan font-size="4.84" letter-spacing="0.9">km</tspan>:</text>
<text x="572.00" y="601.00" font-size="8.65" font-weight="bold" fill="#6495ed">29 kt</text>
<text x="605.80" y="601.00" font-size="8.65" font-weight="bold" fill="#6495ed">105 m²/s²</text>
<text x="660.10" y="601.00" font-size="8.65" font-weight="bold" fill="#6495ed">40 kt</text>
<text x="704.30" y="601.00" font-size="8.65" font-weight="bold" fill="#6495ed" text-anchor="middle">42</text>
<text x="730.80" y="601.00" font-size="8.65" font-weight="bold" fill="#6495ed">0.003</text>
<text x="532.20" y="617.00" font-size="8.65" font-weight="bold" fill="#111">EIL:</text>
<text x="572.00" y="617.00" font-size="8.65" font-weight="bold" fill="#6495ed">9 kt</text>
<text x="605.80" y="617.00" font-size="8.65" font-weight="bold" fill="#6495ed">-17 m²/s²</text>
<text x="660.10" y="617.00" font-size="8.65" font-weight="bold" fill="#6495ed">24 kt</text>
<text x="704.30" y="617.00" font-size="8.65" font-weight="bold" fill="#6495ed" text-anchor="middle">59</text>
<text x="730.80" y="617.00" font-size="8.65" font-weight="bold" fill="#6495ed">0.006</text>
<rect x="767.40" y="502.70" width="59.60" height="124.60" fill="#fff" stroke="none" stroke-width="1"/>
<rect x="827.00" y="502.70" width="60.40" height="124.60" fill="#fff" stroke="none" stroke-width="1"/>
<rect x="887.40" y="502.70" width="60.20" height="124.60" fill="#fff" stroke="none" stroke-width="1"/>
<rect x="947.60" y="502.70" width="59.80" height="124.60" fill="#fff" stroke="none" stroke-width="1"/>
<g clip-path="url(#cp0)">
<path d="M767.4 502.4 L823.8 502.4 L817.0 515.1 L798.2 519.0 L796.1 523.6 L767.4 535.7 L767.3 554.4 L813.7 560.5 L811.8 565.2 L767.3 571.7 L767.3 580.6 L780.0 581.4 L767.3 584.4 L767.4 590.6 L825.4 594.2 L814.2 598.0 L823.8 602.2 L767.4 608.6 L767.4 611.8 L821.6 615.0 L824.8 618.2 L818.4 623.5 L823.8 627.6 L767.4 627.6Z" stroke="none" stroke-width="1" fill="#6495ed" stroke-linejoin="round" stroke-linecap="butt" opacity="0.2"/>
<rect x="767.40" y="572.00" width="59.60" height="45.00" fill="#add8e6" stroke="none" stroke-width="1" opacity="0.22"/>
<line x1="767.40" y1="523.20" x2="827.00" y2="523.20" stroke="#000" stroke-width="0.6" opacity="0.22"/>
<line x1="767.40" y1="544.30" x2="827.00" y2="544.30" stroke="#000" stroke-width="0.6" opacity="0.22"/>
<line x1="767.40" y1="565.30" x2="827.00" y2="565.30" stroke="#000" stroke-width="0.6" opacity="0.22"/>
<line x1="767.40" y1="586.30" x2="827.00" y2="586.30" stroke="#000" stroke-width="0.6" opacity="0.22"/>
<line x1="767.40" y1="607.20" x2="827.00" y2="607.20" stroke="#000" stroke-width="0.6" opacity="0.22"/>
<path d="M823.8 502.4 L817.0 515.1 L798.2 519.0 L796.1 523.6 L767.4 535.7" stroke="#ff0000" stroke-width="1.7" fill="none" stroke-linejoin="round" stroke-linecap="butt"/>
<path d="M767.3 554.4 L813.7 560.5 L811.8 565.2 L767.3 571.7" stroke="#ff0000" stroke-width="1.7" fill="none" stroke-linejoin="round" stroke-linecap="butt"/>
<path d="M767.3 580.6 L780.0 581.4 L767.3 584.4" stroke="#ff0000" stroke-width="1.7" fill="none" stroke-linejoin="round" stroke-linecap="butt"/>
<path d="M767.4 590.6 L825.4 594.2 L814.2 598.0 L823.8 602.2 L767.4 608.6" stroke="#800080" stroke-width="1.7" fill="none" stroke-linejoin="round" stroke-linecap="butt"/>
<path d="M767.4 611.8 L821.6 615.0 L824.8 618.2 L818.4 623.5 L823.8 627.6" stroke="#800080" stroke-width="1.7" fill="none" stroke-linejoin="round" stroke-linecap="butt"/>
<text x="797.60" y="512.60" font-size="5.8" font-weight="bold" fill="#111" text-anchor="middle">Streamwiseness</text>
<text x="797.60" y="519.40" font-size="5.8" font-weight="bold" fill="#111" text-anchor="middle">of ζ (%)</text>
<text x="774.00" y="544.00" font-size="5.6" font-weight="bold" fill="#000">2 km</text>
<text x="774.00" y="565.00" font-size="5.6" font-weight="bold" fill="#000">1.5 km</text>
<text x="774.00" y="586.00" font-size="5.6" font-weight="bold" fill="#000">1 km</text>
<text x="774.00" y="607.00" font-size="5.6" font-weight="bold" fill="#000">.5 km</text>
<text x="776.40" y="625.60" font-size="5.1" fill="#333" text-anchor="middle" opacity="0.85" font-style="italic">50</text>
<text x="796.10" y="625.60" font-size="5.1" fill="#333" text-anchor="middle" opacity="0.85" font-style="italic">70</text>
<text x="815.70" y="625.60" font-size="5.1" fill="#333" text-anchor="middle" opacity="0.85" font-style="italic">90</text>
</g>
<g clip-path="url(#cp1)">
<path d="M827.0 503.0 L828.5 503.0 L828.5 519.3 L836.2 523.4 L837.3 536.6 L837.4 540.0 L836.2 544.4 L830.5 556.2 L833.8 565.4 L832.9 572.0 L832.8 589.4 L829.1 593.8 L839.3 597.5 L840.9 601.0 L835.2 607.7 L839.3 612.7 L857.6 619.4 L858.6 627.6 L827.0 627.6Z" stroke="none" stroke-width="1" fill="#808080" stroke-linejoin="round" stroke-linecap="butt" opacity="0.22"/>
<path d="M827.0 503.0 L828.3 503.0 L828.3 519.3 L833.2 523.4 L832.4 530.0 L828.7 544.4 L828.7 556.0 L833.8 565.4 L828.2 574.0 L830.5 581.0 L829.6 590.0 L829.1 593.8 L840.3 598.5 L840.9 601.0 L829.1 610.7 L844.4 616.4 L857.6 619.4 L858.6 627.6 L827.0 627.6Z" stroke="none" stroke-width="1" fill="#ffa500" stroke-linejoin="round" stroke-linecap="butt" opacity="0.22"/>
<rect x="827.00" y="572.00" width="60.40" height="45.00" fill="#add8e6" stroke="none" stroke-width="1" opacity="0.22"/>
<line x1="827.00" y1="523.20" x2="887.40" y2="523.20" stroke="#000" stroke-width="0.6" opacity="0.22"/>
<line x1="827.00" y1="544.30" x2="887.40" y2="544.30" stroke="#000" stroke-width="0.6" opacity="0.22"/>
<line x1="827.00" y1="565.30" x2="887.40" y2="565.30" stroke="#000" stroke-width="0.6" opacity="0.22"/>
<line x1="827.00" y1="586.30" x2="887.40" y2="586.30" stroke="#000" stroke-width="0.6" opacity="0.22"/>
<line x1="827.00" y1="607.20" x2="887.40" y2="607.20" stroke="#000" stroke-width="0.6" opacity="0.22"/>
<path d="M828.5 503.0 L828.5 519.3 L836.2 523.4 L837.3 536.6 L837.4 540.0 L836.2 544.4 L830.5 556.2 L833.8 565.4 L832.9 572.0 L832.8 589.4 L829.1 593.8 L839.3 597.5 L840.9 601.0 L835.2 607.7 L839.3 612.7 L857.6 619.4 L858.6 627.6" stroke="#808080" stroke-width="1.9" fill="none" stroke-linejoin="round" stroke-linecap="butt" opacity="0.85"/>
<path d="M828.3 503.0 L828.3 519.3 L833.2 523.4 L832.4 530.0 L828.7 544.4 L828.7 556.0 L833.8 565.4 L828.2 574.0 L830.5 581.0 L829.6 590.0 L829.1 593.8 L840.3 598.5 L840.9 601.0 L829.1 610.7 L844.4 616.4 L857.6 619.4 L858.6 627.6" stroke="#ffa500" stroke-width="1.2" fill="none" stroke-linejoin="round" stroke-linecap="butt"/>
<path d="M828.3 503.0 L828.3 519.3" stroke="#b8860b" stroke-width="1.9" fill="none" stroke-linejoin="round" stroke-linecap="butt"/>
<path d="M829.1 593.8 L840.3 598.5 L840.9 601.0 L829.1 610.7" stroke="#b8860b" stroke-width="1.9" fill="none" stroke-linejoin="round" stroke-linecap="butt"/>
<path d="M829.1 610.7 L844.4 616.4 L857.6 619.4 L858.6 627.6" stroke="#b8860b" stroke-width="1.9" fill="none" stroke-linejoin="round" stroke-linecap="butt"/>
<text x="857.40" y="515.20" font-size="6.9" font-weight="bold" fill="#111" text-anchor="middle">Total ζ &amp;</text>
<text x="857.40" y="522.65" font-size="6.9" font-weight="bold" fill="#111" text-anchor="middle">Streamwise ζ</text>
<text x="857.40" y="530.10" font-size="6.9" font-weight="bold" fill="#111" text-anchor="middle">(/sec)</text>
<text x="836.90" y="625.60" font-size="5.1" fill="#333" text-anchor="middle" opacity="0.85" font-style="italic">.01</text>
<text x="857.30" y="625.60" font-size="5.1" fill="#333" text-anchor="middle" opacity="0.85" font-style="italic">.03</text>
<text x="877.50" y="625.60" font-size="5.1" fill="#333" text-anchor="middle" opacity="0.85" font-style="italic">.05</text>
</g>
<g clip-path="url(#cp2)">
<path d="M887.4 533.8 L894.9 545.9 L900.2 559.8 L901.2 568.2 L909.1 586.3 L909.1 586.3 L911.9 593.8 L908.0 604.4 L915.7 615.4 L915.1 623.1 L907.6 627.6 L887.4 627.6Z" stroke="none" stroke-width="1" fill="#6495ed" stroke-linejoin="round" stroke-linecap="butt" opacity="0.2"/>
<rect x="887.40" y="572.00" width="60.20" height="45.00" fill="#add8e6" stroke="none" stroke-width="1" opacity="0.22"/>
<line x1="887.40" y1="523.20" x2="947.60" y2="523.20" stroke="#000" stroke-width="0.6" opacity="0.22"/>
<line x1="887.40" y1="544.30" x2="947.60" y2="544.30" stroke="#000" stroke-width="0.6" opacity="0.22"/>
<line x1="887.40" y1="565.30" x2="947.60" y2="565.30" stroke="#000" stroke-width="0.6" opacity="0.22"/>
<line x1="887.40" y1="586.30" x2="947.60" y2="586.30" stroke="#000" stroke-width="0.6" opacity="0.22"/>
<line x1="887.40" y1="607.20" x2="947.60" y2="607.20" stroke="#000" stroke-width="0.6" opacity="0.22"/>
<path d="M887.4 533.8 L894.9 545.9 L900.2 559.8 L901.2 568.2 L909.1 586.3" stroke="#ff0000" stroke-width="1.7" fill="none" stroke-linejoin="round" stroke-linecap="butt"/>
<path d="M909.1 586.3 L911.9 593.8 L908.0 604.4 L915.7 615.4 L915.1 623.1 L907.6 627.6" stroke="#800080" stroke-width="1.7" fill="none" stroke-linejoin="round" stroke-linecap="butt"/>
<text x="917.30" y="517.30" font-size="6.9" font-weight="bold" fill="#111" text-anchor="middle">Storm Relative</text>
<text x="917.30" y="524.40" font-size="6.9" font-weight="bold" fill="#111" text-anchor="middle">Wind (kts)</text>
<text x="947.00" y="547.00" font-size="6.0" font-weight="bold" fill="#000" text-anchor="end">-LFC</text>
<text x="947.00" y="617.00" font-size="6.0" font-weight="bold" fill="#000" text-anchor="end">-LCL</text>
<text x="902.30" y="625.60" font-size="5.1" fill="#333" text-anchor="middle" opacity="0.85" font-style="italic">20</text>
<text x="917.80" y="625.60" font-size="5.1" fill="#333" text-anchor="middle" opacity="0.85" font-style="italic">30</text>
<text x="933.10" y="625.60" font-size="5.1" fill="#333" text-anchor="middle" opacity="0.85" font-style="italic">40</text>
</g>
<g clip-path="url(#cp3)">
<rect x="947.60" y="572.00" width="59.80" height="45.00" fill="#add8e6" stroke="none" stroke-width="1" opacity="0.22"/>
<line x1="947.60" y1="523.20" x2="1007.40" y2="523.20" stroke="#000" stroke-width="0.6" opacity="0.22"/>
<line x1="947.60" y1="544.30" x2="1007.40" y2="544.30" stroke="#000" stroke-width="0.6" opacity="0.22"/>
<line x1="947.60" y1="565.30" x2="1007.40" y2="565.30" stroke="#000" stroke-width="0.6" opacity="0.22"/>
<line x1="947.60" y1="586.30" x2="1007.40" y2="586.30" stroke="#000" stroke-width="0.6" opacity="0.22"/>
<line x1="947.60" y1="607.20" x2="1007.40" y2="607.20" stroke="#000" stroke-width="0.6" opacity="0.22"/>
<path d="M977.5 569.7 L972.4 572.5 L974.6 577.8 L973.2 590.0 L971.0 599.0 L963.9 610.4 L962.5 614.0 L947.7 627.6 L977.5 627.6Z" stroke="none" stroke-width="1" fill="#80c1c1" stroke-linejoin="round" stroke-linecap="butt"/>
<path d="M977.5 569.7 L1006.4 578.5 L1007.5 582.0 L1003.2 586.3 L1007.5 592.7 L1007.2 602.0 L1002.2 610.4 L1006.5 614.6 L1004.7 618.1 L993.4 627.6 L977.5 627.6Z" stroke="none" stroke-width="1" fill="#fd9a3c" stroke-linejoin="round" stroke-linecap="butt"/>
<line x1="977.50" y1="502.70" x2="977.50" y2="627.30" stroke="#4169e1" stroke-width="0.6" opacity="0.8" stroke-dasharray="0.7 1"/>
<text x="977.80" y="514.80" font-size="6.9" font-weight="bold" fill="#111" text-anchor="middle">Stepwise</text>
<text x="977.80" y="522.25" font-size="6.9" font-weight="bold" fill="#111" text-anchor="middle">CIN &amp; CAPE</text>
<text x="977.80" y="529.70" font-size="6.9" font-weight="bold" fill="#111" text-anchor="middle">(J/kg)</text>
<text x="956.9" y="622.1" font-size="5.4" fill="#223" opacity="0.62" text-anchor="middle" transform="rotate(-45 956.9 620.3)">-200</text>
<text x="967.8" y="622.1" font-size="5.4" fill="#223" opacity="0.62" text-anchor="middle" transform="rotate(-45 967.8 620.3)">-100</text>
<text x="975.9" y="622.1" font-size="5.4" fill="#223" opacity="0.62" text-anchor="middle" transform="rotate(-45 975.9 620.3)">0</text>
<text x="986.8" y="622.1" font-size="5.4" fill="#223" opacity="0.62" text-anchor="middle" transform="rotate(-45 986.8 620.3)">1k</text>
<text x="997.0" y="622.1" font-size="5.4" fill="#223" opacity="0.62" text-anchor="middle" transform="rotate(-45 997.0 620.3)">2k</text>
<line x1="957.50" y1="625.20" x2="957.50" y2="627.30" stroke="#000" stroke-width="0.6" opacity="0.8"/>
<line x1="967.50" y1="625.20" x2="967.50" y2="627.30" stroke="#000" stroke-width="0.6" opacity="0.8"/>
<line x1="977.50" y1="625.20" x2="977.50" y2="627.30" stroke="#000" stroke-width="0.6" opacity="0.8"/>
<line x1="987.50" y1="625.20" x2="987.50" y2="627.30" stroke="#000" stroke-width="0.6" opacity="0.8"/>
<line x1="997.50" y1="625.20" x2="997.50" y2="627.30" stroke="#000" stroke-width="0.6" opacity="0.8"/>
</g>
<rect x="767.40" y="502.70" width="59.60" height="124.60" fill="none" stroke="#808080" stroke-width="0.95"/>
<rect x="827.00" y="502.70" width="60.40" height="124.60" fill="none" stroke="#808080" stroke-width="0.95"/>
<rect x="887.40" y="502.70" width="60.20" height="124.60" fill="none" stroke="#808080" stroke-width="0.95"/>
<rect x="947.60" y="502.70" width="59.80" height="124.60" fill="none" stroke="#808080" stroke-width="0.95"/>
</svg>
</body></html>
